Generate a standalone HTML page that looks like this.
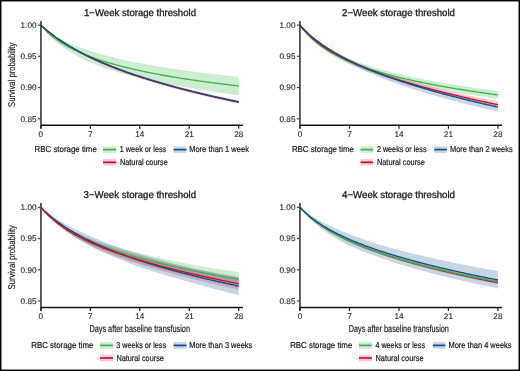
<!DOCTYPE html><html><head><meta charset="utf-8"><style>html,body{margin:0;padding:0;background:#fff}svg{display:block;will-change:transform;text-rendering:geometricPrecision}text{font-family:"Liberation Sans", sans-serif;fill:#222;stroke:#222;stroke-width:0.22px;paint-order:stroke}.t{stroke-width:0.1px}.h{stroke-width:0.32px}</style></head><body>
<svg width="520" height="371" viewBox="0 0 520 371">
<rect x="0" y="0" width="520" height="371" fill="#fff"/>
<g>
<path d="M40.9 25.1 L42.32 26.53 L43.75 27.87 L45.17 29.12 L46.59 30.3 L48.02 31.42 L49.44 32.47 L50.86 33.47 L52.28 34.42 L53.71 35.32 L55.13 36.18 L56.55 37.01 L57.98 37.8 L59.4 38.56 L60.82 39.28 L62.25 39.98 L63.67 40.66 L65.09 41.33 L66.51 41.99 L67.94 42.63 L69.36 43.26 L70.78 43.86 L72.21 44.45 L73.63 45.02 L75.05 45.58 L76.48 46.12 L77.9 46.66 L79.32 47.18 L80.74 47.69 L82.17 48.19 L83.59 48.68 L85.01 49.17 L86.44 49.65 L87.86 50.12 L89.28 50.59 L90.71 51.05 L92.13 51.5 L93.55 51.95 L94.97 52.39 L96.4 52.82 L97.82 53.24 L99.24 53.66 L100.67 54.07 L102.09 54.47 L103.51 54.86 L104.94 55.25 L106.36 55.64 L107.78 56.01 L109.21 56.39 L110.63 56.75 L112.05 57.11 L113.47 57.47 L114.9 57.82 L116.32 58.17 L117.74 58.51 L119.17 58.84 L120.59 59.17 L122.01 59.5 L123.44 59.82 L124.86 60.14 L126.28 60.45 L127.7 60.76 L129.13 61.07 L130.55 61.37 L131.97 61.66 L133.4 61.95 L134.82 62.24 L136.24 62.53 L137.67 62.81 L139.09 63.08 L140.51 63.35 L141.93 63.62 L143.36 63.89 L144.78 64.15 L146.2 64.41 L147.63 64.67 L149.05 64.92 L150.47 65.18 L151.9 65.43 L153.32 65.67 L154.74 65.92 L156.16 66.16 L157.59 66.4 L159.01 66.63 L160.43 66.86 L161.86 67.1 L163.28 67.32 L164.7 67.55 L166.13 67.77 L167.55 68 L168.97 68.22 L170.39 68.43 L171.82 68.65 L173.24 68.86 L174.66 69.07 L176.09 69.28 L177.51 69.48 L178.93 69.69 L180.36 69.89 L181.78 70.09 L183.2 70.28 L184.63 70.48 L186.05 70.67 L187.47 70.86 L188.89 71.05 L190.32 71.24 L191.74 71.42 L193.16 71.6 L194.59 71.78 L196.01 71.96 L197.43 72.14 L198.86 72.32 L200.28 72.49 L201.7 72.66 L203.12 72.84 L204.55 73 L205.97 73.17 L207.39 73.34 L208.82 73.5 L210.24 73.67 L211.66 73.83 L213.09 73.99 L214.51 74.15 L215.93 74.31 L217.35 74.46 L218.78 74.62 L220.2 74.77 L221.62 74.93 L223.05 75.08 L224.47 75.23 L225.89 75.38 L227.32 75.52 L228.74 75.67 L230.16 75.82 L231.58 75.96 L233.01 76.1 L234.43 76.24 L235.85 76.39 L237.28 76.53 L238.7 76.66 L238.7 95.26 L237.28 95.08 L235.85 94.89 L234.43 94.7 L233.01 94.51 L231.58 94.31 L230.16 94.12 L228.74 93.92 L227.32 93.73 L225.89 93.53 L224.47 93.33 L223.05 93.13 L221.62 92.93 L220.2 92.72 L218.78 92.52 L217.35 92.31 L215.93 92.1 L214.51 91.89 L213.09 91.68 L211.66 91.47 L210.24 91.26 L208.82 91.04 L207.39 90.82 L205.97 90.6 L204.55 90.38 L203.12 90.16 L201.7 89.94 L200.28 89.71 L198.86 89.48 L197.43 89.25 L196.01 89.02 L194.59 88.79 L193.16 88.55 L191.74 88.32 L190.32 88.08 L188.89 87.84 L187.47 87.59 L186.05 87.35 L184.63 87.1 L183.2 86.86 L181.78 86.61 L180.36 86.35 L178.93 86.1 L177.51 85.84 L176.09 85.58 L174.66 85.32 L173.24 85.06 L171.82 84.79 L170.39 84.53 L168.97 84.26 L167.55 83.98 L166.13 83.71 L164.7 83.43 L163.28 83.15 L161.86 82.86 L160.43 82.58 L159.01 82.28 L157.59 81.99 L156.16 81.69 L154.74 81.39 L153.32 81.09 L151.9 80.78 L150.47 80.47 L149.05 80.16 L147.63 79.84 L146.2 79.52 L144.78 79.19 L143.36 78.86 L141.93 78.53 L140.51 78.19 L139.09 77.85 L137.67 77.5 L136.24 77.15 L134.82 76.79 L133.4 76.44 L131.97 76.07 L130.55 75.7 L129.13 75.33 L127.7 74.95 L126.28 74.57 L124.86 74.18 L123.44 73.79 L122.01 73.39 L120.59 72.99 L119.17 72.57 L117.74 72.16 L116.32 71.73 L114.9 71.3 L113.47 70.86 L112.05 70.42 L110.63 69.97 L109.21 69.51 L107.78 69.04 L106.36 68.56 L104.94 68.08 L103.51 67.58 L102.09 67.08 L100.67 66.57 L99.24 66.05 L97.82 65.51 L96.4 64.97 L94.97 64.41 L93.55 63.85 L92.13 63.27 L90.71 62.68 L89.28 62.08 L87.86 61.46 L86.44 60.82 L85.01 60.16 L83.59 59.49 L82.17 58.79 L80.74 58.08 L79.32 57.34 L77.9 56.59 L76.48 55.82 L75.05 55.02 L73.63 54.21 L72.21 53.37 L70.78 52.51 L69.36 51.62 L67.94 50.71 L66.51 49.77 L65.09 48.81 L63.67 47.8 L62.25 46.74 L60.82 45.64 L59.4 44.51 L57.98 43.35 L56.55 42.14 L55.13 40.89 L53.71 39.6 L52.28 38.26 L50.86 36.86 L49.44 35.4 L48.02 33.89 L46.59 32.3 L45.17 30.64 L43.75 28.89 L42.32 27.05 L40.9 25.1Z" fill="#3cb44b" fill-opacity="0.26"/>
<path d="M40.9 25.1 L42.32 26.36 L43.75 27.58 L45.17 28.77 L46.59 29.93 L48.02 31.06 L49.44 32.16 L50.86 33.24 L52.28 34.29 L53.71 35.32 L55.13 36.32 L56.55 37.31 L57.98 38.27 L59.4 39.21 L60.82 40.14 L62.25 41.05 L63.67 41.94 L65.09 42.81 L66.51 43.67 L67.94 44.51 L69.36 45.34 L70.78 46.16 L72.21 46.96 L73.63 47.75 L75.05 48.53 L76.48 49.29 L77.9 50.05 L79.32 50.79 L80.74 51.53 L82.17 52.25 L83.59 52.97 L85.01 53.67 L86.44 54.37 L87.86 55.06 L89.28 55.74 L90.71 56.41 L92.13 57.08 L93.55 57.73 L94.97 58.38 L96.4 59.02 L97.82 59.65 L99.24 60.28 L100.67 60.89 L102.09 61.5 L103.51 62.1 L104.94 62.7 L106.36 63.29 L107.78 63.87 L109.21 64.45 L110.63 65.01 L112.05 65.58 L113.47 66.13 L114.9 66.68 L116.32 67.23 L117.74 67.77 L119.17 68.3 L120.59 68.83 L122.01 69.35 L123.44 69.87 L124.86 70.38 L126.28 70.89 L127.7 71.39 L129.13 71.89 L130.55 72.38 L131.97 72.87 L133.4 73.35 L134.82 73.83 L136.24 74.31 L137.67 74.78 L139.09 75.24 L140.51 75.7 L141.93 76.16 L143.36 76.61 L144.78 77.06 L146.2 77.51 L147.63 77.95 L149.05 78.39 L150.47 78.82 L151.9 79.25 L153.32 79.68 L154.74 80.11 L156.16 80.53 L157.59 80.95 L159.01 81.36 L160.43 81.77 L161.86 82.18 L163.28 82.58 L164.7 82.99 L166.13 83.38 L167.55 83.78 L168.97 84.17 L170.39 84.56 L171.82 84.95 L173.24 85.34 L174.66 85.72 L176.09 86.1 L177.51 86.47 L178.93 86.85 L180.36 87.22 L181.78 87.59 L183.2 87.95 L184.63 88.32 L186.05 88.68 L187.47 89.04 L188.89 89.4 L190.32 89.75 L191.74 90.1 L193.16 90.45 L194.59 90.8 L196.01 91.15 L197.43 91.49 L198.86 91.83 L200.28 92.17 L201.7 92.51 L203.12 92.85 L204.55 93.18 L205.97 93.51 L207.39 93.84 L208.82 94.17 L210.24 94.49 L211.66 94.82 L213.09 95.14 L214.51 95.46 L215.93 95.78 L217.35 96.09 L218.78 96.41 L220.2 96.72 L221.62 97.03 L223.05 97.34 L224.47 97.65 L225.89 97.96 L227.32 98.26 L228.74 98.56 L230.16 98.86 L231.58 99.16 L233.01 99.46 L234.43 99.76 L235.85 100.05 L237.28 100.35 L238.7 100.64 L238.7 103.04 L237.28 102.74 L235.85 102.44 L234.43 102.14 L233.01 101.84 L231.58 101.54 L230.16 101.23 L228.74 100.92 L227.32 100.61 L225.89 100.3 L224.47 99.99 L223.05 99.68 L221.62 99.36 L220.2 99.05 L218.78 98.73 L217.35 98.41 L215.93 98.08 L214.51 97.76 L213.09 97.43 L211.66 97.11 L210.24 96.78 L208.82 96.45 L207.39 96.11 L205.97 95.78 L204.55 95.44 L203.12 95.1 L201.7 94.76 L200.28 94.42 L198.86 94.07 L197.43 93.72 L196.01 93.38 L194.59 93.02 L193.16 92.67 L191.74 92.31 L190.32 91.96 L188.89 91.6 L187.47 91.23 L186.05 90.87 L184.63 90.5 L183.2 90.13 L181.78 89.76 L180.36 89.38 L178.93 89.01 L177.51 88.63 L176.09 88.24 L174.66 87.86 L173.24 87.47 L171.82 87.08 L170.39 86.69 L168.97 86.29 L167.55 85.89 L166.13 85.49 L164.7 85.09 L163.28 84.68 L161.86 84.27 L160.43 83.85 L159.01 83.44 L157.59 83.02 L156.16 82.59 L154.74 82.17 L153.32 81.74 L151.9 81.3 L150.47 80.87 L149.05 80.43 L147.63 79.98 L146.2 79.53 L144.78 79.08 L143.36 78.63 L141.93 78.17 L140.51 77.71 L139.09 77.24 L137.67 76.77 L136.24 76.29 L134.82 75.81 L133.4 75.33 L131.97 74.84 L130.55 74.35 L129.13 73.85 L127.7 73.35 L126.28 72.84 L124.86 72.33 L123.44 71.81 L122.01 71.29 L120.59 70.77 L119.17 70.23 L117.74 69.7 L116.32 69.15 L114.9 68.6 L113.47 68.05 L112.05 67.49 L110.63 66.92 L109.21 66.34 L107.78 65.76 L106.36 65.18 L104.94 64.58 L103.51 63.98 L102.09 63.37 L100.67 62.76 L99.24 62.13 L97.82 61.5 L96.4 60.86 L94.97 60.21 L93.55 59.56 L92.13 58.89 L90.71 58.22 L89.28 57.53 L87.86 56.84 L86.44 56.13 L85.01 55.41 L83.59 54.68 L82.17 53.94 L80.74 53.18 L79.32 52.42 L77.9 51.64 L76.48 50.84 L75.05 50.04 L73.63 49.22 L72.21 48.38 L70.78 47.53 L69.36 46.66 L67.94 45.78 L66.51 44.88 L65.09 43.97 L63.67 43.04 L62.25 42.09 L60.82 41.12 L59.4 40.13 L57.98 39.12 L56.55 38.09 L55.13 37.04 L53.71 35.97 L52.28 34.87 L50.86 33.75 L49.44 32.6 L48.02 31.43 L46.59 30.22 L45.17 28.99 L43.75 27.73 L42.32 26.43 L40.9 25.1Z" fill="#1f5a96" fill-opacity="0.25"/>
<path d="M40.9 25.1 L42.32 26.38 L43.75 27.62 L45.17 28.83 L46.59 30.01 L48.02 31.16 L49.44 32.28 L50.86 33.38 L52.28 34.45 L53.71 35.5 L55.13 36.52 L56.55 37.53 L57.98 38.51 L59.4 39.48 L60.82 40.42 L62.25 41.35 L63.67 42.23 L65.09 43.1 L66.51 43.95 L67.94 44.79 L69.36 45.62 L70.78 46.43 L72.21 47.22 L73.63 48.01 L75.05 48.78 L76.48 49.54 L77.9 50.29 L79.32 51.03 L80.74 51.76 L82.17 52.48 L83.59 53.19 L85.01 53.89 L86.44 54.58 L87.86 55.27 L89.28 55.94 L90.71 56.61 L92.13 57.27 L93.55 57.92 L94.97 58.57 L96.4 59.2 L97.82 59.83 L99.24 60.45 L100.67 61.06 L102.09 61.67 L103.51 62.27 L104.94 62.86 L106.36 63.44 L107.78 64.02 L109.21 64.59 L110.63 65.16 L112.05 65.72 L113.47 66.27 L114.9 66.82 L116.32 67.36 L117.74 67.9 L119.17 68.43 L120.59 68.95 L122.01 69.47 L123.44 69.99 L124.86 70.5 L126.28 71 L127.7 71.5 L129.13 72 L130.55 72.49 L131.97 72.98 L133.4 73.46 L134.82 73.94 L136.24 74.41 L137.67 74.88 L139.09 75.34 L140.51 75.8 L141.93 76.26 L143.36 76.71 L144.78 77.16 L146.2 77.61 L147.63 78.05 L149.05 78.48 L150.47 78.92 L151.9 79.35 L153.32 79.78 L154.74 80.2 L156.16 80.62 L157.59 81.04 L159.01 81.45 L160.43 81.87 L161.86 82.27 L163.28 82.68 L164.7 83.08 L166.13 83.48 L167.55 83.88 L168.97 84.27 L170.39 84.66 L171.82 85.05 L173.24 85.43 L174.66 85.82 L176.09 86.2 L177.51 86.57 L178.93 86.95 L180.36 87.32 L181.78 87.69 L183.2 88.05 L184.63 88.42 L186.05 88.78 L187.47 89.14 L188.89 89.5 L190.32 89.85 L191.74 90.2 L193.16 90.55 L194.59 90.9 L196.01 91.25 L197.43 91.59 L198.86 91.93 L200.28 92.27 L201.7 92.61 L203.12 92.95 L204.55 93.28 L205.97 93.61 L207.39 93.94 L208.82 94.27 L210.24 94.59 L211.66 94.92 L213.09 95.24 L214.51 95.56 L215.93 95.88 L217.35 96.19 L218.78 96.51 L220.2 96.82 L221.62 97.13 L223.05 97.44 L224.47 97.75 L225.89 98.06 L227.32 98.36 L228.74 98.66 L230.16 98.96 L231.58 99.26 L233.01 99.56 L234.43 99.86 L235.85 100.15 L237.28 100.45 L238.7 100.74 L238.7 103.74 L237.28 103.44 L235.85 103.14 L234.43 102.84 L233.01 102.54 L231.58 102.24 L230.16 101.93 L228.74 101.62 L227.32 101.31 L225.89 101 L224.47 100.69 L223.05 100.38 L221.62 100.06 L220.2 99.75 L218.78 99.43 L217.35 99.11 L215.93 98.78 L214.51 98.46 L213.09 98.13 L211.66 97.81 L210.24 97.48 L208.82 97.15 L207.39 96.81 L205.97 96.48 L204.55 96.14 L203.12 95.8 L201.7 95.46 L200.28 95.12 L198.86 94.77 L197.43 94.42 L196.01 94.08 L194.59 93.72 L193.16 93.37 L191.74 93.01 L190.32 92.66 L188.89 92.3 L187.47 91.93 L186.05 91.57 L184.63 91.2 L183.2 90.83 L181.78 90.46 L180.36 90.08 L178.93 89.71 L177.51 89.33 L176.09 88.95 L174.66 88.56 L173.24 88.17 L171.82 87.78 L170.39 87.39 L168.97 86.99 L167.55 86.6 L166.13 86.19 L164.7 85.79 L163.28 85.38 L161.86 84.97 L160.43 84.56 L159.01 84.14 L157.59 83.72 L156.16 83.3 L154.74 82.87 L153.32 82.44 L151.9 82.01 L150.47 81.57 L149.05 81.13 L147.63 80.69 L146.2 80.24 L144.78 79.79 L143.36 79.33 L141.93 78.87 L140.51 78.41 L139.09 77.94 L137.67 77.47 L136.24 76.99 L134.82 76.51 L133.4 76.02 L131.97 75.53 L130.55 75.04 L129.13 74.54 L127.7 74.04 L126.28 73.53 L124.86 73.01 L123.44 72.5 L122.01 71.97 L120.59 71.44 L119.17 70.91 L117.74 70.37 L116.32 69.82 L114.9 69.27 L113.47 68.71 L112.05 68.15 L110.63 67.57 L109.21 67 L107.78 66.41 L106.36 65.82 L104.94 65.22 L103.51 64.62 L102.09 64.01 L100.67 63.39 L99.24 62.76 L97.82 62.12 L96.4 61.48 L94.97 60.83 L93.55 60.17 L92.13 59.5 L90.71 58.82 L89.28 58.13 L87.86 57.43 L86.44 56.72 L85.01 55.99 L83.59 55.26 L82.17 54.51 L80.74 53.75 L79.32 52.98 L77.9 52.19 L76.48 51.4 L75.05 50.58 L73.63 49.76 L72.21 48.92 L70.78 48.06 L69.36 47.19 L67.94 46.3 L66.51 45.4 L65.09 44.48 L63.67 43.54 L62.25 42.58 L60.82 41.59 L59.4 40.57 L57.98 39.52 L56.55 38.46 L55.13 37.38 L53.71 36.27 L52.28 35.14 L50.86 33.99 L49.44 32.8 L48.02 31.6 L46.59 30.36 L45.17 29.09 L43.75 27.8 L42.32 26.47 L40.9 25.1Z" fill="#dc143c" fill-opacity="0.22"/>
<path d="M40.9 25.1 L42.32 26.42 L43.75 27.71 L45.17 28.96 L46.59 30.18 L48.02 31.38 L49.44 32.54 L50.86 33.68 L52.28 34.8 L53.71 35.88 L55.13 36.95 L56.55 38 L57.98 39.02 L59.4 40.02 L60.82 41 L62.25 41.97 L63.67 42.89 L65.09 43.79 L66.51 44.68 L67.94 45.55 L69.36 46.4 L70.78 47.24 L72.21 48.07 L73.63 48.88 L75.05 49.68 L76.48 50.47 L77.9 51.24 L79.32 52 L80.74 52.76 L82.17 53.5 L83.59 54.22 L85.01 54.94 L86.44 55.65 L87.86 56.35 L89.28 57.04 L90.71 57.71 L92.13 58.38 L93.55 59.04 L94.97 59.7 L96.4 60.34 L97.82 60.98 L99.24 61.6 L100.67 62.23 L102.09 62.84 L103.51 63.44 L104.94 64.04 L106.36 64.63 L107.78 65.22 L109.21 65.79 L110.63 66.37 L112.05 66.93 L113.47 67.49 L114.9 68.04 L116.32 68.59 L117.74 69.13 L119.17 69.67 L120.59 70.2 L122.01 70.72 L123.44 71.24 L124.86 71.76 L126.28 72.27 L127.7 72.77 L129.13 73.27 L130.55 73.76 L131.97 74.25 L133.4 74.74 L134.82 75.22 L136.24 75.7 L137.67 76.17 L139.09 76.64 L140.51 77.1 L141.93 77.56 L143.36 78.02 L144.78 78.47 L146.2 78.92 L147.63 79.37 L149.05 79.81 L150.47 80.25 L151.9 80.68 L153.32 81.11 L154.74 81.54 L156.16 81.96 L157.59 82.38 L159.01 82.8 L160.43 83.21 L161.86 83.62 L163.28 84.03 L164.7 84.44 L166.13 84.84 L167.55 85.24 L168.97 85.63 L170.39 86.03 L171.82 86.42 L173.24 86.8 L174.66 87.19 L176.09 87.57 L177.51 87.95 L178.93 88.33 L180.36 88.7 L181.78 89.07 L183.2 89.44 L184.63 89.81 L186.05 90.17 L187.47 90.54 L188.89 90.9 L190.32 91.25 L191.74 91.61 L193.16 91.96 L194.59 92.31 L196.01 92.66 L197.43 93.01 L198.86 93.35 L200.28 93.69 L201.7 94.03 L203.12 94.37 L204.55 94.71 L205.97 95.04 L207.39 95.38 L208.82 95.71 L210.24 96.03 L211.66 96.36 L213.09 96.69 L214.51 97.01 L215.93 97.33 L217.35 97.65 L218.78 97.97 L220.2 98.28 L221.62 98.6 L223.05 98.91 L224.47 99.22 L225.89 99.53 L227.32 99.84 L228.74 100.14 L230.16 100.45 L231.58 100.75 L233.01 101.05 L234.43 101.35 L235.85 101.65 L237.28 101.95 L238.7 102.24" fill="none" stroke="#c8102e" stroke-width="1.35" stroke-linejoin="round"/>
<path d="M40.9 25.1 L42.32 26.79 L43.75 28.38 L45.17 29.88 L46.59 31.3 L48.02 32.65 L49.44 33.94 L50.86 35.16 L52.28 36.34 L53.71 37.46 L55.13 38.54 L56.55 39.58 L57.98 40.57 L59.4 41.53 L60.82 42.46 L62.25 43.36 L63.67 44.23 L65.09 45.07 L66.51 45.88 L67.94 46.67 L69.36 47.44 L70.78 48.18 L72.21 48.91 L73.63 49.61 L75.05 50.3 L76.48 50.97 L77.9 51.62 L79.32 52.26 L80.74 52.88 L82.17 53.49 L83.59 54.08 L85.01 54.66 L86.44 55.23 L87.86 55.79 L89.28 56.33 L90.71 56.86 L92.13 57.39 L93.55 57.9 L94.97 58.4 L96.4 58.89 L97.82 59.38 L99.24 59.85 L100.67 60.32 L102.09 60.77 L103.51 61.22 L104.94 61.67 L106.36 62.1 L107.78 62.53 L109.21 62.95 L110.63 63.36 L112.05 63.77 L113.47 64.17 L114.9 64.56 L116.32 64.95 L117.74 65.33 L119.17 65.71 L120.59 66.08 L122.01 66.45 L123.44 66.81 L124.86 67.16 L126.28 67.51 L127.7 67.86 L129.13 68.2 L130.55 68.53 L131.97 68.87 L133.4 69.19 L134.82 69.52 L136.24 69.84 L137.67 70.15 L139.09 70.46 L140.51 70.77 L141.93 71.08 L143.36 71.38 L144.78 71.67 L146.2 71.97 L147.63 72.26 L149.05 72.54 L150.47 72.82 L151.9 73.1 L153.32 73.38 L154.74 73.65 L156.16 73.93 L157.59 74.19 L159.01 74.46 L160.43 74.72 L161.86 74.98 L163.28 75.24 L164.7 75.49 L166.13 75.74 L167.55 75.99 L168.97 76.24 L170.39 76.48 L171.82 76.72 L173.24 76.96 L174.66 77.2 L176.09 77.43 L177.51 77.66 L178.93 77.89 L180.36 78.12 L181.78 78.35 L183.2 78.57 L184.63 78.79 L186.05 79.01 L187.47 79.23 L188.89 79.44 L190.32 79.66 L191.74 79.87 L193.16 80.08 L194.59 80.29 L196.01 80.49 L197.43 80.7 L198.86 80.9 L200.28 81.1 L201.7 81.3 L203.12 81.5 L204.55 81.69 L205.97 81.89 L207.39 82.08 L208.82 82.27 L210.24 82.46 L211.66 82.65 L213.09 82.84 L214.51 83.02 L215.93 83.21 L217.35 83.39 L218.78 83.57 L220.2 83.75 L221.62 83.93 L223.05 84.1 L224.47 84.28 L225.89 84.45 L227.32 84.63 L228.74 84.8 L230.16 84.97 L231.58 85.14 L233.01 85.3 L234.43 85.47 L235.85 85.64 L237.28 85.8 L238.7 85.96" fill="none" stroke="#3db54a" stroke-width="1.35" stroke-linejoin="round"/>
<path d="M40.9 25.1 L42.32 26.39 L43.75 27.65 L45.17 28.88 L46.59 30.08 L48.02 31.24 L49.44 32.38 L50.86 33.49 L52.28 34.58 L53.71 35.64 L55.13 36.68 L56.55 37.7 L57.98 38.7 L59.4 39.67 L60.82 40.63 L62.25 41.57 L63.67 42.49 L65.09 43.39 L66.51 44.28 L67.94 45.15 L69.36 46 L70.78 46.84 L72.21 47.67 L73.63 48.48 L75.05 49.28 L76.48 50.07 L77.9 50.84 L79.32 51.6 L80.74 52.36 L82.17 53.1 L83.59 53.82 L85.01 54.54 L86.44 55.25 L87.86 55.95 L89.28 56.64 L90.71 57.31 L92.13 57.98 L93.55 58.64 L94.97 59.3 L96.4 59.94 L97.82 60.58 L99.24 61.2 L100.67 61.83 L102.09 62.44 L103.51 63.04 L104.94 63.64 L106.36 64.23 L107.78 64.82 L109.21 65.39 L110.63 65.97 L112.05 66.53 L113.47 67.09 L114.9 67.64 L116.32 68.19 L117.74 68.73 L119.17 69.27 L120.59 69.8 L122.01 70.32 L123.44 70.84 L124.86 71.36 L126.28 71.87 L127.7 72.37 L129.13 72.87 L130.55 73.36 L131.97 73.85 L133.4 74.34 L134.82 74.82 L136.24 75.3 L137.67 75.77 L139.09 76.24 L140.51 76.7 L141.93 77.16 L143.36 77.62 L144.78 78.07 L146.2 78.52 L147.63 78.97 L149.05 79.41 L150.47 79.85 L151.9 80.28 L153.32 80.71 L154.74 81.14 L156.16 81.56 L157.59 81.98 L159.01 82.4 L160.43 82.81 L161.86 83.22 L163.28 83.63 L164.7 84.04 L166.13 84.44 L167.55 84.84 L168.97 85.23 L170.39 85.63 L171.82 86.02 L173.24 86.4 L174.66 86.79 L176.09 87.17 L177.51 87.55 L178.93 87.93 L180.36 88.3 L181.78 88.67 L183.2 89.04 L184.63 89.41 L186.05 89.77 L187.47 90.14 L188.89 90.5 L190.32 90.85 L191.74 91.21 L193.16 91.56 L194.59 91.91 L196.01 92.26 L197.43 92.61 L198.86 92.95 L200.28 93.29 L201.7 93.63 L203.12 93.97 L204.55 94.31 L205.97 94.64 L207.39 94.98 L208.82 95.31 L210.24 95.63 L211.66 95.96 L213.09 96.29 L214.51 96.61 L215.93 96.93 L217.35 97.25 L218.78 97.57 L220.2 97.88 L221.62 98.2 L223.05 98.51 L224.47 98.82 L225.89 99.13 L227.32 99.44 L228.74 99.74 L230.16 100.05 L231.58 100.35 L233.01 100.65 L234.43 100.95 L235.85 101.25 L237.28 101.55 L238.7 101.84" fill="none" stroke="#154d88" stroke-width="1.35" stroke-linejoin="round"/>
</g>
<line x1="40.95" y1="20.9" x2="40.95" y2="128.4" stroke="#383838" stroke-width="1.6"/>
<line x1="40.95" y1="125.2" x2="242.9" y2="125.2" stroke="#141414" stroke-width="1.5"/>
<line x1="37.85" y1="25.1" x2="40.95" y2="25.1" stroke="#474747" stroke-width="1.2"/>
<text x="36.5" y="27.9" font-size="8.2" text-anchor="end" class="t">1.00</text>
<line x1="37.85" y1="56.33" x2="40.95" y2="56.33" stroke="#474747" stroke-width="1.2"/>
<text x="36.5" y="59.13" font-size="8.2" text-anchor="end" class="t">0.95</text>
<line x1="37.85" y1="87.56" x2="40.95" y2="87.56" stroke="#474747" stroke-width="1.2"/>
<text x="36.5" y="90.36" font-size="8.2" text-anchor="end" class="t">0.90</text>
<line x1="37.85" y1="118.79" x2="40.95" y2="118.79" stroke="#474747" stroke-width="1.2"/>
<text x="36.5" y="121.59" font-size="8.2" text-anchor="end" class="t">0.85</text>
<line x1="40.9" y1="125.2" x2="40.9" y2="128.7" stroke="#1c1c1c" stroke-width="1.2"/>
<text x="40.9" y="136.8" font-size="8.2" text-anchor="middle" class="t">0</text>
<line x1="90.35" y1="125.2" x2="90.35" y2="128.7" stroke="#1c1c1c" stroke-width="1.2"/>
<text x="90.35" y="136.8" font-size="8.2" text-anchor="middle" class="t">7</text>
<line x1="139.8" y1="125.2" x2="139.8" y2="128.7" stroke="#1c1c1c" stroke-width="1.2"/>
<text x="139.8" y="136.8" font-size="8.2" text-anchor="middle" class="t">14</text>
<line x1="189.25" y1="125.2" x2="189.25" y2="128.7" stroke="#1c1c1c" stroke-width="1.2"/>
<text x="189.25" y="136.8" font-size="8.2" text-anchor="middle" class="t">21</text>
<line x1="238.7" y1="125.2" x2="238.7" y2="128.7" stroke="#1c1c1c" stroke-width="1.2"/>
<text x="238.7" y="136.8" font-size="8.2" text-anchor="middle" class="t">28</text>
<text x="84" y="15.9" font-size="9.9" text-anchor="start" textLength="112" lengthAdjust="spacingAndGlyphs" class="h">1−Week storage threshold</text>
<g>
<path d="M300 25.1 L301.42 26.96 L302.85 28.71 L304.27 30.34 L305.69 31.88 L307.12 33.33 L308.54 34.7 L309.97 36.01 L311.39 37.26 L312.81 38.45 L314.24 39.59 L315.66 40.69 L317.08 41.74 L318.51 42.75 L319.93 43.73 L321.36 44.68 L322.78 45.6 L324.2 46.49 L325.63 47.36 L327.05 48.2 L328.47 49.02 L329.9 49.81 L331.32 50.58 L332.75 51.33 L334.17 52.06 L335.59 52.78 L337.02 53.47 L338.44 54.15 L339.86 54.82 L341.29 55.47 L342.71 56.1 L344.14 56.73 L345.56 57.34 L346.98 57.93 L348.41 58.52 L349.83 59.1 L351.25 59.66 L352.68 60.21 L354.1 60.75 L355.53 61.29 L356.95 61.81 L358.37 62.32 L359.8 62.82 L361.22 63.32 L362.64 63.8 L364.07 64.28 L365.49 64.75 L366.92 65.21 L368.34 65.67 L369.76 66.11 L371.19 66.55 L372.61 66.99 L374.03 67.41 L375.46 67.83 L376.88 68.25 L378.31 68.66 L379.73 69.06 L381.15 69.46 L382.58 69.85 L384 70.24 L385.42 70.62 L386.85 71 L388.27 71.37 L389.7 71.73 L391.12 72.1 L392.54 72.46 L393.97 72.81 L395.39 73.16 L396.81 73.5 L398.24 73.85 L399.66 74.18 L401.09 74.52 L402.51 74.85 L403.93 75.17 L405.36 75.5 L406.78 75.82 L408.2 76.13 L409.63 76.44 L411.05 76.75 L412.48 77.06 L413.9 77.36 L415.32 77.66 L416.75 77.96 L418.17 78.25 L419.59 78.54 L421.02 78.83 L422.44 79.12 L423.87 79.4 L425.29 79.68 L426.71 79.95 L428.14 80.23 L429.56 80.5 L430.98 80.76 L432.41 81.03 L433.83 81.29 L435.26 81.55 L436.68 81.81 L438.1 82.07 L439.53 82.32 L440.95 82.57 L442.37 82.82 L443.8 83.06 L445.22 83.3 L446.65 83.55 L448.07 83.78 L449.49 84.02 L450.92 84.25 L452.34 84.49 L453.76 84.72 L455.19 84.94 L456.61 85.17 L458.04 85.39 L459.46 85.61 L460.88 85.83 L462.31 86.05 L463.73 86.27 L465.15 86.48 L466.58 86.7 L468 86.91 L469.43 87.12 L470.85 87.33 L472.27 87.53 L473.7 87.74 L475.12 87.94 L476.54 88.14 L477.97 88.34 L479.39 88.54 L480.82 88.73 L482.24 88.93 L483.66 89.12 L485.09 89.32 L486.51 89.51 L487.93 89.7 L489.36 89.88 L490.78 90.07 L492.21 90.25 L493.63 90.44 L495.05 90.62 L496.48 90.8 L497.9 90.98 L497.9 98.78 L496.48 98.59 L495.05 98.39 L493.63 98.19 L492.21 97.99 L490.78 97.78 L489.36 97.58 L487.93 97.37 L486.51 97.17 L485.09 96.96 L483.66 96.75 L482.24 96.54 L480.82 96.33 L479.39 96.11 L477.97 95.9 L476.54 95.68 L475.12 95.46 L473.7 95.24 L472.27 95.02 L470.85 94.8 L469.43 94.57 L468 94.35 L466.58 94.12 L465.15 93.89 L463.73 93.65 L462.31 93.42 L460.88 93.19 L459.46 92.95 L458.04 92.71 L456.61 92.47 L455.19 92.22 L453.76 91.98 L452.34 91.73 L450.92 91.48 L449.49 91.23 L448.07 90.98 L446.65 90.72 L445.22 90.47 L443.8 90.21 L442.37 89.95 L440.95 89.68 L439.53 89.42 L438.1 89.15 L436.68 88.88 L435.26 88.61 L433.83 88.33 L432.41 88.05 L430.98 87.77 L429.56 87.49 L428.14 87.2 L426.71 86.91 L425.29 86.62 L423.87 86.33 L422.44 86.03 L421.02 85.73 L419.59 85.43 L418.17 85.12 L416.75 84.81 L415.32 84.5 L413.9 84.18 L412.48 83.86 L411.05 83.53 L409.63 83.21 L408.2 82.87 L406.78 82.54 L405.36 82.2 L403.93 81.85 L402.51 81.51 L401.09 81.15 L399.66 80.8 L398.24 80.43 L396.81 80.07 L395.39 79.7 L393.97 79.32 L392.54 78.94 L391.12 78.55 L389.7 78.16 L388.27 77.76 L386.85 77.36 L385.42 76.95 L384 76.54 L382.58 76.12 L381.15 75.69 L379.73 75.26 L378.31 74.82 L376.88 74.37 L375.46 73.92 L374.03 73.46 L372.61 72.99 L371.19 72.52 L369.76 72.03 L368.34 71.54 L366.92 71.04 L365.49 70.54 L364.07 70.02 L362.64 69.5 L361.22 68.96 L359.8 68.42 L358.37 67.86 L356.95 67.3 L355.53 66.72 L354.1 66.14 L352.68 65.54 L351.25 64.93 L349.83 64.31 L348.41 63.67 L346.98 63.03 L345.56 62.36 L344.14 61.68 L342.71 60.98 L341.29 60.27 L339.86 59.54 L338.44 58.79 L337.02 58.02 L335.59 57.23 L334.17 56.42 L332.75 55.58 L331.32 54.73 L329.9 53.85 L328.47 52.94 L327.05 52 L325.63 51.04 L324.2 50.05 L322.78 49.02 L321.36 47.95 L319.93 46.84 L318.51 45.69 L317.08 44.5 L315.66 43.25 L314.24 41.96 L312.81 40.61 L311.39 39.21 L309.97 37.74 L308.54 36.2 L307.12 34.59 L305.69 32.9 L304.27 31.11 L302.85 29.23 L301.42 27.23 L300 25.1Z" fill="#3cb44b" fill-opacity="0.26"/>
<path d="M300 25.1 L301.42 26.58 L302.85 28.01 L304.27 29.39 L305.69 30.72 L307.12 32 L308.54 33.25 L309.97 34.45 L311.39 35.63 L312.81 36.77 L314.24 37.88 L315.66 38.96 L317.08 40.01 L318.51 41.05 L319.93 42.06 L321.36 43.04 L322.78 44.01 L324.2 44.97 L325.63 45.9 L327.05 46.81 L328.47 47.71 L329.9 48.59 L331.32 49.46 L332.75 50.3 L334.17 51.14 L335.59 51.96 L337.02 52.76 L338.44 53.55 L339.86 54.33 L341.29 55.09 L342.71 55.85 L344.14 56.59 L345.56 57.32 L346.98 58.04 L348.41 58.74 L349.83 59.44 L351.25 60.13 L352.68 60.8 L354.1 61.47 L355.53 62.13 L356.95 62.78 L358.37 63.42 L359.8 64.06 L361.22 64.68 L362.64 65.3 L364.07 65.91 L365.49 66.51 L366.92 67.11 L368.34 67.7 L369.76 68.28 L371.19 68.85 L372.61 69.42 L374.03 69.98 L375.46 70.54 L376.88 71.09 L378.31 71.64 L379.73 72.17 L381.15 72.71 L382.58 73.24 L384 73.76 L385.42 74.28 L386.85 74.79 L388.27 75.3 L389.7 75.8 L391.12 76.3 L392.54 76.79 L393.97 77.28 L395.39 77.77 L396.81 78.25 L398.24 78.72 L399.66 79.2 L401.09 79.66 L402.51 80.13 L403.93 80.59 L405.36 81.05 L406.78 81.5 L408.2 81.95 L409.63 82.39 L411.05 82.84 L412.48 83.28 L413.9 83.71 L415.32 84.15 L416.75 84.57 L418.17 85 L419.59 85.42 L421.02 85.85 L422.44 86.26 L423.87 86.68 L425.29 87.09 L426.71 87.5 L428.14 87.9 L429.56 88.31 L430.98 88.71 L432.41 89.1 L433.83 89.5 L435.26 89.89 L436.68 90.28 L438.1 90.67 L439.53 91.05 L440.95 91.44 L442.37 91.82 L443.8 92.19 L445.22 92.57 L446.65 92.94 L448.07 93.31 L449.49 93.68 L450.92 94.05 L452.34 94.41 L453.76 94.77 L455.19 95.13 L456.61 95.49 L458.04 95.85 L459.46 96.2 L460.88 96.55 L462.31 96.9 L463.73 97.25 L465.15 97.6 L466.58 97.94 L468 98.29 L469.43 98.63 L470.85 98.97 L472.27 99.3 L473.7 99.64 L475.12 99.97 L476.54 100.31 L477.97 100.64 L479.39 100.97 L480.82 101.29 L482.24 101.62 L483.66 101.94 L485.09 102.27 L486.51 102.59 L487.93 102.91 L489.36 103.23 L490.78 103.54 L492.21 103.86 L493.63 104.17 L495.05 104.49 L496.48 104.8 L497.9 105.11 L497.9 111.51 L496.48 111.19 L495.05 110.87 L493.63 110.55 L492.21 110.22 L490.78 109.9 L489.36 109.57 L487.93 109.24 L486.51 108.91 L485.09 108.58 L483.66 108.25 L482.24 107.91 L480.82 107.58 L479.39 107.24 L477.97 106.9 L476.54 106.55 L475.12 106.21 L473.7 105.87 L472.27 105.52 L470.85 105.17 L469.43 104.82 L468 104.46 L466.58 104.11 L465.15 103.75 L463.73 103.39 L462.31 103.03 L460.88 102.67 L459.46 102.3 L458.04 101.94 L456.61 101.57 L455.19 101.2 L453.76 100.82 L452.34 100.45 L450.92 100.07 L449.49 99.69 L448.07 99.31 L446.65 98.93 L445.22 98.54 L443.8 98.15 L442.37 97.76 L440.95 97.36 L439.53 96.97 L438.1 96.57 L436.68 96.17 L435.26 95.76 L433.83 95.35 L432.41 94.94 L430.98 94.53 L429.56 94.12 L428.14 93.7 L426.71 93.27 L425.29 92.85 L423.87 92.42 L422.44 91.99 L421.02 91.56 L419.59 91.12 L418.17 90.68 L416.75 90.23 L415.32 89.79 L413.9 89.33 L412.48 88.88 L411.05 88.42 L409.63 87.96 L408.2 87.49 L406.78 87.02 L405.36 86.55 L403.93 86.07 L402.51 85.58 L401.09 85.1 L399.66 84.61 L398.24 84.11 L396.81 83.61 L395.39 83.11 L393.97 82.59 L392.54 82.08 L391.12 81.56 L389.7 81.03 L388.27 80.5 L386.85 79.96 L385.42 79.41 L384 78.86 L382.58 78.31 L381.15 77.74 L379.73 77.18 L378.31 76.6 L376.88 76.02 L375.46 75.43 L374.03 74.84 L372.61 74.24 L371.19 73.63 L369.76 73.01 L368.34 72.39 L366.92 71.76 L365.49 71.12 L364.07 70.48 L362.64 69.83 L361.22 69.16 L359.8 68.49 L358.37 67.82 L356.95 67.13 L355.53 66.43 L354.1 65.73 L352.68 65.01 L351.25 64.29 L349.83 63.55 L348.41 62.81 L346.98 62.05 L345.56 61.28 L344.14 60.5 L342.71 59.71 L341.29 58.9 L339.86 58.09 L338.44 57.25 L337.02 56.4 L335.59 55.54 L334.17 54.65 L332.75 53.75 L331.32 52.84 L329.9 51.9 L328.47 50.94 L327.05 49.96 L325.63 48.96 L324.2 47.93 L322.78 46.88 L321.36 45.79 L319.93 44.68 L318.51 43.53 L317.08 42.35 L315.66 41.14 L314.24 39.9 L312.81 38.61 L311.39 37.29 L309.97 35.93 L308.54 34.53 L307.12 33.09 L305.69 31.59 L304.27 30.05 L302.85 28.46 L301.42 26.81 L300 25.1Z" fill="#1f5a96" fill-opacity="0.25"/>
<path d="M300 25.1 L301.42 26.78 L302.85 28.37 L304.27 29.88 L305.69 31.32 L307.12 32.69 L308.54 34.01 L309.97 35.28 L311.39 36.5 L312.81 37.67 L314.24 38.81 L315.66 39.91 L317.08 40.97 L318.51 42.01 L319.93 43.02 L321.36 44 L322.78 44.96 L324.2 45.89 L325.63 46.81 L327.05 47.7 L328.47 48.58 L329.9 49.43 L331.32 50.27 L332.75 51.09 L334.17 51.89 L335.59 52.68 L337.02 53.45 L338.44 54.21 L339.86 54.95 L341.29 55.68 L342.71 56.39 L344.14 57.09 L345.56 57.78 L346.98 58.46 L348.41 59.12 L349.83 59.78 L351.25 60.42 L352.68 61.05 L354.1 61.67 L355.53 62.29 L356.95 62.89 L358.37 63.49 L359.8 64.07 L361.22 64.65 L362.64 65.22 L364.07 65.79 L365.49 66.34 L366.92 66.89 L368.34 67.43 L369.76 67.97 L371.19 68.49 L372.61 69.02 L374.03 69.53 L375.46 70.04 L376.88 70.55 L378.31 71.04 L379.73 71.54 L381.15 72.03 L382.58 72.51 L384 72.99 L385.42 73.46 L386.85 73.93 L388.27 74.39 L389.7 74.85 L391.12 75.31 L392.54 75.76 L393.97 76.2 L395.39 76.65 L396.81 77.09 L398.24 77.52 L399.66 77.95 L401.09 78.38 L402.51 78.81 L403.93 79.23 L405.36 79.65 L406.78 80.06 L408.2 80.47 L409.63 80.88 L411.05 81.29 L412.48 81.69 L413.9 82.09 L415.32 82.49 L416.75 82.88 L418.17 83.27 L419.59 83.66 L421.02 84.05 L422.44 84.43 L423.87 84.81 L425.29 85.19 L426.71 85.56 L428.14 85.94 L429.56 86.31 L430.98 86.67 L432.41 87.04 L433.83 87.4 L435.26 87.76 L436.68 88.11 L438.1 88.47 L439.53 88.82 L440.95 89.17 L442.37 89.51 L443.8 89.86 L445.22 90.2 L446.65 90.54 L448.07 90.87 L449.49 91.2 L450.92 91.54 L452.34 91.86 L453.76 92.19 L455.19 92.51 L456.61 92.83 L458.04 93.15 L459.46 93.47 L460.88 93.78 L462.31 94.1 L463.73 94.41 L465.15 94.71 L466.58 95.02 L468 95.32 L469.43 95.63 L470.85 95.93 L472.27 96.22 L473.7 96.52 L475.12 96.81 L476.54 97.11 L477.97 97.4 L479.39 97.69 L480.82 97.97 L482.24 98.26 L483.66 98.54 L485.09 98.82 L486.51 99.1 L487.93 99.38 L489.36 99.66 L490.78 99.93 L492.21 100.21 L493.63 100.48 L495.05 100.75 L496.48 101.02 L497.9 101.29 L497.9 106.69 L496.48 106.39 L495.05 106.08 L493.63 105.78 L492.21 105.47 L490.78 105.16 L489.36 104.86 L487.93 104.55 L486.51 104.23 L485.09 103.92 L483.66 103.61 L482.24 103.29 L480.82 102.98 L479.39 102.66 L477.97 102.34 L476.54 102.02 L475.12 101.7 L473.7 101.37 L472.27 101.05 L470.85 100.72 L469.43 100.39 L468 100.06 L466.58 99.73 L465.15 99.4 L463.73 99.06 L462.31 98.73 L460.88 98.39 L459.46 98.05 L458.04 97.71 L456.61 97.36 L455.19 97.02 L453.76 96.67 L452.34 96.32 L450.92 95.97 L449.49 95.62 L448.07 95.27 L446.65 94.91 L445.22 94.55 L443.8 94.19 L442.37 93.83 L440.95 93.46 L439.53 93.1 L438.1 92.73 L436.68 92.36 L435.26 91.98 L433.83 91.61 L432.41 91.23 L430.98 90.85 L429.56 90.47 L428.14 90.08 L426.71 89.69 L425.29 89.3 L423.87 88.91 L422.44 88.52 L421.02 88.12 L419.59 87.72 L418.17 87.31 L416.75 86.9 L415.32 86.49 L413.9 86.08 L412.48 85.66 L411.05 85.24 L409.63 84.82 L408.2 84.4 L406.78 83.97 L405.36 83.53 L403.93 83.1 L402.51 82.66 L401.09 82.21 L399.66 81.76 L398.24 81.31 L396.81 80.85 L395.39 80.39 L393.97 79.93 L392.54 79.46 L391.12 78.99 L389.7 78.51 L388.27 78.03 L386.85 77.54 L385.42 77.05 L384 76.55 L382.58 76.05 L381.15 75.55 L379.73 75.03 L378.31 74.52 L376.88 73.99 L375.46 73.46 L374.03 72.93 L372.61 72.39 L371.19 71.84 L369.76 71.28 L368.34 70.72 L366.92 70.15 L365.49 69.58 L364.07 68.99 L362.64 68.4 L361.22 67.8 L359.8 67.19 L358.37 66.58 L356.95 65.95 L355.53 65.32 L354.1 64.68 L352.68 64.02 L351.25 63.36 L349.83 62.69 L348.41 62 L346.98 61.3 L345.56 60.6 L344.14 59.87 L342.71 59.14 L341.29 58.39 L339.86 57.63 L338.44 56.85 L337.02 56.06 L335.59 55.25 L334.17 54.43 L332.75 53.58 L331.32 52.72 L329.9 51.83 L328.47 50.93 L327.05 50 L325.63 49.05 L324.2 48.07 L322.78 47.06 L321.36 46.02 L319.93 44.95 L318.51 43.85 L317.08 42.71 L315.66 41.53 L314.24 40.31 L312.81 39.05 L311.39 37.74 L309.97 36.38 L308.54 34.97 L307.12 33.5 L305.69 31.97 L304.27 30.37 L302.85 28.7 L301.42 26.95 L300 25.1Z" fill="#dc143c" fill-opacity="0.22"/>
<path d="M300 25.1 L301.42 27.1 L302.85 28.97 L304.27 30.73 L305.69 32.39 L307.12 33.96 L308.54 35.45 L309.97 36.88 L311.39 38.23 L312.81 39.53 L314.24 40.78 L315.66 41.97 L317.08 43.12 L318.51 44.22 L319.93 45.29 L321.36 46.31 L322.78 47.31 L324.2 48.27 L325.63 49.2 L327.05 50.1 L328.47 50.98 L329.9 51.83 L331.32 52.65 L332.75 53.46 L334.17 54.24 L335.59 55 L337.02 55.75 L338.44 56.47 L339.86 57.18 L341.29 57.87 L342.71 58.54 L344.14 59.2 L345.56 59.85 L346.98 60.48 L348.41 61.1 L349.83 61.7 L351.25 62.3 L352.68 62.88 L354.1 63.45 L355.53 64 L356.95 64.55 L358.37 65.09 L359.8 65.62 L361.22 66.14 L362.64 66.65 L364.07 67.15 L365.49 67.64 L366.92 68.13 L368.34 68.6 L369.76 69.07 L371.19 69.53 L372.61 69.99 L374.03 70.44 L375.46 70.88 L376.88 71.31 L378.31 71.74 L379.73 72.16 L381.15 72.57 L382.58 72.98 L384 73.39 L385.42 73.79 L386.85 74.18 L388.27 74.57 L389.7 74.95 L391.12 75.32 L392.54 75.7 L393.97 76.06 L395.39 76.43 L396.81 76.79 L398.24 77.14 L399.66 77.49 L401.09 77.84 L402.51 78.18 L403.93 78.51 L405.36 78.85 L406.78 79.18 L408.2 79.5 L409.63 79.83 L411.05 80.14 L412.48 80.46 L413.9 80.77 L415.32 81.08 L416.75 81.38 L418.17 81.69 L419.59 81.99 L421.02 82.28 L422.44 82.57 L423.87 82.86 L425.29 83.15 L426.71 83.43 L428.14 83.71 L429.56 83.99 L430.98 84.27 L432.41 84.54 L433.83 84.81 L435.26 85.08 L436.68 85.34 L438.1 85.61 L439.53 85.87 L440.95 86.13 L442.37 86.38 L443.8 86.63 L445.22 86.89 L446.65 87.13 L448.07 87.38 L449.49 87.63 L450.92 87.87 L452.34 88.11 L453.76 88.35 L455.19 88.58 L456.61 88.82 L458.04 89.05 L459.46 89.28 L460.88 89.51 L462.31 89.74 L463.73 89.96 L465.15 90.19 L466.58 90.41 L468 90.63 L469.43 90.84 L470.85 91.06 L472.27 91.28 L473.7 91.49 L475.12 91.7 L476.54 91.91 L477.97 92.12 L479.39 92.33 L480.82 92.53 L482.24 92.73 L483.66 92.94 L485.09 93.14 L486.51 93.34 L487.93 93.53 L489.36 93.73 L490.78 93.93 L492.21 94.12 L493.63 94.31 L495.05 94.5 L496.48 94.69 L497.9 94.88" fill="none" stroke="#3db54a" stroke-width="1.35" stroke-linejoin="round"/>
<path d="M300 25.1 L301.42 26.87 L302.85 28.55 L304.27 30.15 L305.69 31.67 L307.12 33.13 L308.54 34.53 L309.97 35.88 L311.39 37.17 L312.81 38.42 L314.24 39.62 L315.66 40.79 L317.08 41.92 L318.51 43.01 L319.93 44.07 L321.36 45.1 L322.78 46.1 L324.2 47.08 L325.63 48.03 L327.05 48.96 L328.47 49.86 L329.9 50.75 L331.32 51.61 L332.75 52.45 L334.17 53.28 L335.59 54.09 L337.02 54.88 L338.44 55.66 L339.86 56.42 L341.29 57.17 L342.71 57.9 L344.14 58.62 L345.56 59.33 L346.98 60.03 L348.41 60.71 L349.83 61.38 L351.25 62.04 L352.68 62.7 L354.1 63.34 L355.53 63.97 L356.95 64.6 L358.37 65.21 L359.8 65.82 L361.22 66.41 L362.64 67 L364.07 67.58 L365.49 68.16 L366.92 68.72 L368.34 69.28 L369.76 69.84 L371.19 70.38 L372.61 70.92 L374.03 71.46 L375.46 71.98 L376.88 72.5 L378.31 73.02 L379.73 73.53 L381.15 74.04 L382.58 74.53 L384 75.03 L385.42 75.52 L386.85 76 L388.27 76.48 L389.7 76.96 L391.12 77.43 L392.54 77.89 L393.97 78.35 L395.39 78.81 L396.81 79.26 L398.24 79.71 L399.66 80.16 L401.09 80.6 L402.51 81.04 L403.93 81.47 L405.36 81.9 L406.78 82.33 L408.2 82.75 L409.63 83.17 L411.05 83.59 L412.48 84 L413.9 84.41 L415.32 84.82 L416.75 85.23 L418.17 85.63 L419.59 86.03 L421.02 86.42 L422.44 86.82 L423.87 87.21 L425.29 87.59 L426.71 87.98 L428.14 88.36 L429.56 88.74 L430.98 89.12 L432.41 89.49 L433.83 89.87 L435.26 90.24 L436.68 90.6 L438.1 90.97 L439.53 91.33 L440.95 91.69 L442.37 92.05 L443.8 92.41 L445.22 92.76 L446.65 93.12 L448.07 93.47 L449.49 93.82 L450.92 94.16 L452.34 94.51 L453.76 94.85 L455.19 95.19 L456.61 95.53 L458.04 95.87 L459.46 96.2 L460.88 96.54 L462.31 96.87 L463.73 97.2 L465.15 97.53 L466.58 97.86 L468 98.18 L469.43 98.51 L470.85 98.83 L472.27 99.15 L473.7 99.47 L475.12 99.79 L476.54 100.1 L477.97 100.42 L479.39 100.73 L480.82 101.05 L482.24 101.36 L483.66 101.67 L485.09 101.97 L486.51 102.28 L487.93 102.59 L489.36 102.89 L490.78 103.19 L492.21 103.49 L493.63 103.79 L495.05 104.09 L496.48 104.39 L497.9 104.69" fill="none" stroke="#c8102e" stroke-width="1.35" stroke-linejoin="round"/>
<path d="M300 25.1 L301.42 26.66 L302.85 28.17 L304.27 29.62 L305.69 31.02 L307.12 32.37 L308.54 33.69 L309.97 34.96 L311.39 36.19 L312.81 37.4 L314.24 38.56 L315.66 39.7 L317.08 40.81 L318.51 41.89 L319.93 42.94 L321.36 43.97 L322.78 44.97 L324.2 45.95 L325.63 46.92 L327.05 47.86 L328.47 48.78 L329.9 49.68 L331.32 50.56 L332.75 51.43 L334.17 52.28 L335.59 53.12 L337.02 53.94 L338.44 54.75 L339.86 55.54 L341.29 56.32 L342.71 57.09 L344.14 57.84 L345.56 58.58 L346.98 59.31 L348.41 60.03 L349.83 60.74 L351.25 61.44 L352.68 62.13 L354.1 62.81 L355.53 63.48 L356.95 64.14 L358.37 64.79 L359.8 65.44 L361.22 66.07 L362.64 66.7 L364.07 67.32 L365.49 67.93 L366.92 68.53 L368.34 69.13 L369.76 69.72 L371.19 70.31 L372.61 70.88 L374.03 71.45 L375.46 72.02 L376.88 72.58 L378.31 73.13 L379.73 73.68 L381.15 74.22 L382.58 74.75 L384 75.28 L385.42 75.81 L386.85 76.33 L388.27 76.84 L389.7 77.35 L391.12 77.86 L392.54 78.36 L393.97 78.86 L395.39 79.35 L396.81 79.84 L398.24 80.32 L399.66 80.8 L401.09 81.27 L402.51 81.74 L403.93 82.21 L405.36 82.68 L406.78 83.13 L408.2 83.59 L409.63 84.04 L411.05 84.49 L412.48 84.94 L413.9 85.38 L415.32 85.82 L416.75 86.25 L418.17 86.68 L419.59 87.11 L421.02 87.54 L422.44 87.96 L423.87 88.38 L425.29 88.8 L426.71 89.21 L428.14 89.62 L429.56 90.03 L430.98 90.44 L432.41 90.84 L433.83 91.24 L435.26 91.64 L436.68 92.04 L438.1 92.43 L439.53 92.82 L440.95 93.21 L442.37 93.59 L443.8 93.98 L445.22 94.36 L446.65 94.74 L448.07 95.11 L449.49 95.49 L450.92 95.86 L452.34 96.23 L453.76 96.6 L455.19 96.96 L456.61 97.33 L458.04 97.69 L459.46 98.05 L460.88 98.4 L462.31 98.76 L463.73 99.11 L465.15 99.47 L466.58 99.82 L468 100.17 L469.43 100.51 L470.85 100.86 L472.27 101.2 L473.7 101.54 L475.12 101.88 L476.54 102.22 L477.97 102.56 L479.39 102.89 L480.82 103.23 L482.24 103.56 L483.66 103.89 L485.09 104.22 L486.51 104.54 L487.93 104.87 L489.36 105.19 L490.78 105.52 L492.21 105.84 L493.63 106.16 L495.05 106.47 L496.48 106.79 L497.9 107.11" fill="none" stroke="#154d88" stroke-width="1.35" stroke-linejoin="round"/>
</g>
<line x1="299.93" y1="20.9" x2="299.93" y2="128.4" stroke="#383838" stroke-width="1.6"/>
<line x1="299.93" y1="125.2" x2="502.1" y2="125.2" stroke="#141414" stroke-width="1.5"/>
<line x1="296.83" y1="25.1" x2="299.93" y2="25.1" stroke="#474747" stroke-width="1.2"/>
<text x="295.48" y="27.9" font-size="8.2" text-anchor="end" class="t">1.00</text>
<line x1="296.83" y1="56.33" x2="299.93" y2="56.33" stroke="#474747" stroke-width="1.2"/>
<text x="295.48" y="59.13" font-size="8.2" text-anchor="end" class="t">0.95</text>
<line x1="296.83" y1="87.56" x2="299.93" y2="87.56" stroke="#474747" stroke-width="1.2"/>
<text x="295.48" y="90.36" font-size="8.2" text-anchor="end" class="t">0.90</text>
<line x1="296.83" y1="118.79" x2="299.93" y2="118.79" stroke="#474747" stroke-width="1.2"/>
<text x="295.48" y="121.59" font-size="8.2" text-anchor="end" class="t">0.85</text>
<line x1="300" y1="125.2" x2="300" y2="128.7" stroke="#1c1c1c" stroke-width="1.2"/>
<text x="300" y="136.8" font-size="8.2" text-anchor="middle" class="t">0</text>
<line x1="349.47" y1="125.2" x2="349.47" y2="128.7" stroke="#1c1c1c" stroke-width="1.2"/>
<text x="349.47" y="136.8" font-size="8.2" text-anchor="middle" class="t">7</text>
<line x1="398.95" y1="125.2" x2="398.95" y2="128.7" stroke="#1c1c1c" stroke-width="1.2"/>
<text x="398.95" y="136.8" font-size="8.2" text-anchor="middle" class="t">14</text>
<line x1="448.42" y1="125.2" x2="448.42" y2="128.7" stroke="#1c1c1c" stroke-width="1.2"/>
<text x="448.42" y="136.8" font-size="8.2" text-anchor="middle" class="t">21</text>
<line x1="497.9" y1="125.2" x2="497.9" y2="128.7" stroke="#1c1c1c" stroke-width="1.2"/>
<text x="497.9" y="136.8" font-size="8.2" text-anchor="middle" class="t">28</text>
<text x="342.1" y="15.9" font-size="9.9" text-anchor="start" textLength="112.9" lengthAdjust="spacingAndGlyphs" class="h">2−Week storage threshold</text>
<g>
<path d="M40.9 207.3 L42.32 208.88 L43.75 210.37 L45.17 211.78 L46.59 213.11 L48.02 214.39 L49.44 215.6 L50.86 216.76 L52.28 217.87 L53.71 218.94 L55.13 219.97 L56.55 220.97 L57.98 221.93 L59.4 222.86 L60.82 223.76 L62.25 224.64 L63.67 225.49 L65.09 226.32 L66.51 227.14 L67.94 227.93 L69.36 228.71 L70.78 229.46 L72.21 230.2 L73.63 230.93 L75.05 231.63 L76.48 232.33 L77.9 233.01 L79.32 233.67 L80.74 234.32 L82.17 234.96 L83.59 235.58 L85.01 236.19 L86.44 236.79 L87.86 237.37 L89.28 237.94 L90.71 238.5 L92.13 239.05 L93.55 239.58 L94.97 240.11 L96.4 240.63 L97.82 241.13 L99.24 241.63 L100.67 242.12 L102.09 242.6 L103.51 243.07 L104.94 243.53 L106.36 243.99 L107.78 244.44 L109.21 244.89 L110.63 245.32 L112.05 245.75 L113.47 246.18 L114.9 246.6 L116.32 247.01 L117.74 247.42 L119.17 247.82 L120.59 248.22 L122.01 248.61 L123.44 249 L124.86 249.39 L126.28 249.77 L127.7 250.15 L129.13 250.53 L130.55 250.9 L131.97 251.27 L133.4 251.63 L134.82 252 L136.24 252.36 L137.67 252.72 L139.09 253.07 L140.51 253.43 L141.93 253.78 L143.36 254.13 L144.78 254.48 L146.2 254.82 L147.63 255.16 L149.05 255.5 L150.47 255.84 L151.9 256.18 L153.32 256.51 L154.74 256.84 L156.16 257.17 L157.59 257.49 L159.01 257.82 L160.43 258.14 L161.86 258.46 L163.28 258.77 L164.7 259.09 L166.13 259.4 L167.55 259.71 L168.97 260.01 L170.39 260.32 L171.82 260.62 L173.24 260.92 L174.66 261.21 L176.09 261.5 L177.51 261.79 L178.93 262.08 L180.36 262.37 L181.78 262.65 L183.2 262.93 L184.63 263.2 L186.05 263.48 L187.47 263.75 L188.89 264.01 L190.32 264.28 L191.74 264.54 L193.16 264.8 L194.59 265.05 L196.01 265.31 L197.43 265.56 L198.86 265.81 L200.28 266.06 L201.7 266.3 L203.12 266.55 L204.55 266.79 L205.97 267.03 L207.39 267.26 L208.82 267.5 L210.24 267.73 L211.66 267.96 L213.09 268.19 L214.51 268.42 L215.93 268.64 L217.35 268.87 L218.78 269.09 L220.2 269.31 L221.62 269.53 L223.05 269.74 L224.47 269.96 L225.89 270.17 L227.32 270.38 L228.74 270.59 L230.16 270.8 L231.58 271 L233.01 271.21 L234.43 271.41 L235.85 271.61 L237.28 271.81 L238.7 272.01 L238.7 286.81 L237.28 286.51 L235.85 286.21 L234.43 285.91 L233.01 285.61 L231.58 285.31 L230.16 285 L228.74 284.7 L227.32 284.4 L225.89 284.09 L224.47 283.78 L223.05 283.48 L221.62 283.17 L220.2 282.86 L218.78 282.55 L217.35 282.24 L215.93 281.93 L214.51 281.61 L213.09 281.3 L211.66 280.99 L210.24 280.67 L208.82 280.35 L207.39 280.03 L205.97 279.71 L204.55 279.39 L203.12 279.07 L201.7 278.75 L200.28 278.43 L198.86 278.1 L197.43 277.78 L196.01 277.45 L194.59 277.12 L193.16 276.79 L191.74 276.46 L190.32 276.13 L188.89 275.8 L187.47 275.46 L186.05 275.13 L184.63 274.79 L183.2 274.45 L181.78 274.11 L180.36 273.77 L178.93 273.43 L177.51 273.09 L176.09 272.75 L174.66 272.4 L173.24 272.05 L171.82 271.7 L170.39 271.35 L168.97 271 L167.55 270.64 L166.13 270.28 L164.7 269.92 L163.28 269.56 L161.86 269.19 L160.43 268.82 L159.01 268.45 L157.59 268.07 L156.16 267.69 L154.74 267.31 L153.32 266.92 L151.9 266.53 L150.47 266.14 L149.05 265.74 L147.63 265.34 L146.2 264.93 L144.78 264.52 L143.36 264.11 L141.93 263.69 L140.51 263.26 L139.09 262.83 L137.67 262.4 L136.24 261.96 L134.82 261.51 L133.4 261.06 L131.97 260.6 L130.55 260.14 L129.13 259.67 L127.7 259.19 L126.28 258.71 L124.86 258.22 L123.44 257.73 L122.01 257.23 L120.59 256.73 L119.17 256.21 L117.74 255.7 L116.32 255.17 L114.9 254.64 L113.47 254.11 L112.05 253.56 L110.63 253.01 L109.21 252.46 L107.78 251.89 L106.36 251.32 L104.94 250.74 L103.51 250.16 L102.09 249.57 L100.67 248.97 L99.24 248.36 L97.82 247.74 L96.4 247.12 L94.97 246.48 L93.55 245.84 L92.13 245.19 L90.71 244.53 L89.28 243.86 L87.86 243.18 L86.44 242.49 L85.01 241.79 L83.59 241.08 L82.17 240.35 L80.74 239.61 L79.32 238.86 L77.9 238.09 L76.48 237.3 L75.05 236.5 L73.63 235.68 L72.21 234.83 L70.78 233.97 L69.36 233.08 L67.94 232.17 L66.51 231.23 L65.09 230.27 L63.67 229.27 L62.25 228.24 L60.82 227.18 L59.4 226.09 L57.98 224.95 L56.55 223.78 L55.13 222.57 L53.71 221.31 L52.28 220 L50.86 218.64 L49.44 217.23 L48.02 215.76 L46.59 214.23 L45.17 212.62 L43.75 210.94 L42.32 209.17 L40.9 207.3Z" fill="#3cb44b" fill-opacity="0.26"/>
<path d="M40.9 207.3 L42.32 208.53 L43.75 209.71 L45.17 210.85 L46.59 211.95 L48.02 213.01 L49.44 214.05 L50.86 215.05 L52.28 216.03 L53.71 216.98 L55.13 217.91 L56.55 218.81 L57.98 219.7 L59.4 220.56 L60.82 221.41 L62.25 222.24 L63.67 223.06 L65.09 223.86 L66.51 224.65 L67.94 225.43 L69.36 226.19 L70.78 226.93 L72.21 227.66 L73.63 228.38 L75.05 229.08 L76.48 229.77 L77.9 230.46 L79.32 231.13 L80.74 231.8 L82.17 232.46 L83.59 233.11 L85.01 233.75 L86.44 234.39 L87.86 235.03 L89.28 235.66 L90.71 236.29 L92.13 236.91 L93.55 237.53 L94.97 238.14 L96.4 238.75 L97.82 239.35 L99.24 239.94 L100.67 240.53 L102.09 241.11 L103.51 241.68 L104.94 242.25 L106.36 242.81 L107.78 243.36 L109.21 243.91 L110.63 244.44 L112.05 244.98 L113.47 245.5 L114.9 246.01 L116.32 246.52 L117.74 247.02 L119.17 247.52 L120.59 248.01 L122.01 248.49 L123.44 248.97 L124.86 249.44 L126.28 249.91 L127.7 250.37 L129.13 250.83 L130.55 251.28 L131.97 251.73 L133.4 252.18 L134.82 252.62 L136.24 253.06 L137.67 253.5 L139.09 253.93 L140.51 254.37 L141.93 254.8 L143.36 255.22 L144.78 255.65 L146.2 256.07 L147.63 256.49 L149.05 256.9 L150.47 257.31 L151.9 257.72 L153.32 258.13 L154.74 258.54 L156.16 258.94 L157.59 259.34 L159.01 259.73 L160.43 260.12 L161.86 260.51 L163.28 260.9 L164.7 261.28 L166.13 261.66 L167.55 262.04 L168.97 262.42 L170.39 262.79 L171.82 263.16 L173.24 263.52 L174.66 263.88 L176.09 264.24 L177.51 264.6 L178.93 264.95 L180.36 265.3 L181.78 265.65 L183.2 265.99 L184.63 266.33 L186.05 266.66 L187.47 266.99 L188.89 267.32 L190.32 267.65 L191.74 267.97 L193.16 268.28 L194.59 268.6 L196.01 268.91 L197.43 269.21 L198.86 269.52 L200.28 269.82 L201.7 270.12 L203.12 270.41 L204.55 270.7 L205.97 270.99 L207.39 271.28 L208.82 271.56 L210.24 271.84 L211.66 272.11 L213.09 272.39 L214.51 272.66 L215.93 272.93 L217.35 273.19 L218.78 273.46 L220.2 273.72 L221.62 273.97 L223.05 274.23 L224.47 274.48 L225.89 274.74 L227.32 274.98 L228.74 275.23 L230.16 275.47 L231.58 275.72 L233.01 275.96 L234.43 276.19 L235.85 276.43 L237.28 276.66 L238.7 276.9 L238.7 295.3 L237.28 294.93 L235.85 294.56 L234.43 294.18 L233.01 293.81 L231.58 293.44 L230.16 293.07 L228.74 292.69 L227.32 292.32 L225.89 291.94 L224.47 291.56 L223.05 291.19 L221.62 290.81 L220.2 290.43 L218.78 290.05 L217.35 289.67 L215.93 289.29 L214.51 288.91 L213.09 288.52 L211.66 288.14 L210.24 287.76 L208.82 287.37 L207.39 286.99 L205.97 286.6 L204.55 286.21 L203.12 285.82 L201.7 285.43 L200.28 285.05 L198.86 284.66 L197.43 284.26 L196.01 283.87 L194.59 283.48 L193.16 283.09 L191.74 282.69 L190.32 282.3 L188.89 281.9 L187.47 281.51 L186.05 281.11 L184.63 280.71 L183.2 280.31 L181.78 279.91 L180.36 279.51 L178.93 279.11 L177.51 278.7 L176.09 278.29 L174.66 277.89 L173.24 277.48 L171.82 277.06 L170.39 276.65 L168.97 276.23 L167.55 275.81 L166.13 275.39 L164.7 274.96 L163.28 274.54 L161.86 274.11 L160.43 273.67 L159.01 273.24 L157.59 272.79 L156.16 272.35 L154.74 271.9 L153.32 271.45 L151.9 271 L150.47 270.54 L149.05 270.07 L147.63 269.61 L146.2 269.14 L144.78 268.66 L143.36 268.18 L141.93 267.69 L140.51 267.2 L139.09 266.7 L137.67 266.2 L136.24 265.69 L134.82 265.18 L133.4 264.66 L131.97 264.13 L130.55 263.6 L129.13 263.06 L127.7 262.52 L126.28 261.97 L124.86 261.42 L123.44 260.86 L122.01 260.3 L120.59 259.73 L119.17 259.16 L117.74 258.58 L116.32 257.99 L114.9 257.4 L113.47 256.81 L112.05 256.21 L110.63 255.61 L109.21 255 L107.78 254.38 L106.36 253.76 L104.94 253.13 L103.51 252.5 L102.09 251.85 L100.67 251.2 L99.24 250.53 L97.82 249.86 L96.4 249.17 L94.97 248.48 L93.55 247.77 L92.13 247.05 L90.71 246.32 L89.28 245.57 L87.86 244.8 L86.44 244.02 L85.01 243.22 L83.59 242.41 L82.17 241.57 L80.74 240.72 L79.32 239.85 L77.9 238.97 L76.48 238.06 L75.05 237.14 L73.63 236.2 L72.21 235.24 L70.78 234.27 L69.36 233.27 L67.94 232.26 L66.51 231.22 L65.09 230.16 L63.67 229.08 L62.25 227.97 L60.82 226.84 L59.4 225.67 L57.98 224.47 L56.55 223.25 L55.13 221.99 L53.71 220.7 L52.28 219.37 L50.86 218.01 L49.44 216.61 L48.02 215.17 L46.59 213.69 L45.17 212.16 L43.75 210.59 L42.32 208.97 L40.9 207.3Z" fill="#1f5a96" fill-opacity="0.25"/>
<path d="M40.9 207.4 L42.32 208.87 L43.75 210.28 L45.17 211.62 L46.59 212.91 L48.02 214.15 L49.44 215.33 L50.86 216.48 L52.28 217.59 L53.71 218.66 L55.13 219.71 L56.55 220.72 L57.98 221.7 L59.4 222.66 L60.82 223.6 L62.25 224.52 L63.67 225.42 L65.09 226.3 L66.51 227.16 L67.94 228 L69.36 228.83 L70.78 229.64 L72.21 230.43 L73.63 231.21 L75.05 231.97 L76.48 232.72 L77.9 233.45 L79.32 234.17 L80.74 234.87 L82.17 235.56 L83.59 236.23 L85.01 236.9 L86.44 237.55 L87.86 238.19 L89.28 238.81 L90.71 239.43 L92.13 240.03 L93.55 240.62 L94.97 241.2 L96.4 241.77 L97.82 242.33 L99.24 242.88 L100.67 243.42 L102.09 243.95 L103.51 244.47 L104.94 244.98 L106.36 245.49 L107.78 245.98 L109.21 246.47 L110.63 246.96 L112.05 247.43 L113.47 247.9 L114.9 248.37 L116.32 248.83 L117.74 249.28 L119.17 249.73 L120.59 250.17 L122.01 250.61 L123.44 251.05 L124.86 251.48 L126.28 251.91 L127.7 252.33 L129.13 252.75 L130.55 253.17 L131.97 253.58 L133.4 253.99 L134.82 254.4 L136.24 254.81 L137.67 255.21 L139.09 255.61 L140.51 256 L141.93 256.4 L143.36 256.79 L144.78 257.18 L146.2 257.56 L147.63 257.95 L149.05 258.33 L150.47 258.71 L151.9 259.09 L153.32 259.47 L154.74 259.84 L156.16 260.21 L157.59 260.58 L159.01 260.95 L160.43 261.31 L161.86 261.68 L163.28 262.03 L164.7 262.39 L166.13 262.75 L167.55 263.1 L168.97 263.45 L170.39 263.79 L171.82 264.14 L173.24 264.48 L174.66 264.82 L176.09 265.15 L177.51 265.49 L178.93 265.82 L180.36 266.15 L181.78 266.47 L183.2 266.8 L184.63 267.12 L186.05 267.43 L187.47 267.75 L188.89 268.06 L190.32 268.37 L191.74 268.68 L193.16 268.98 L194.59 269.28 L196.01 269.58 L197.43 269.88 L198.86 270.18 L200.28 270.47 L201.7 270.76 L203.12 271.05 L204.55 271.33 L205.97 271.62 L207.39 271.9 L208.82 272.18 L210.24 272.46 L211.66 272.73 L213.09 273.01 L214.51 273.28 L215.93 273.55 L217.35 273.82 L218.78 274.09 L220.2 274.35 L221.62 274.61 L223.05 274.87 L224.47 275.13 L225.89 275.39 L227.32 275.65 L228.74 275.9 L230.16 276.16 L231.58 276.41 L233.01 276.66 L234.43 276.9 L235.85 277.15 L237.28 277.39 L238.7 277.64 L238.7 289.84 L237.28 289.52 L235.85 289.2 L234.43 288.88 L233.01 288.56 L231.58 288.24 L230.16 287.92 L228.74 287.59 L227.32 287.27 L225.89 286.94 L224.47 286.61 L223.05 286.29 L221.62 285.96 L220.2 285.63 L218.78 285.3 L217.35 284.96 L215.93 284.63 L214.51 284.29 L213.09 283.96 L211.66 283.62 L210.24 283.28 L208.82 282.94 L207.39 282.6 L205.97 282.26 L204.55 281.92 L203.12 281.57 L201.7 281.23 L200.28 280.88 L198.86 280.53 L197.43 280.18 L196.01 279.83 L194.59 279.47 L193.16 279.12 L191.74 278.76 L190.32 278.41 L188.89 278.05 L187.47 277.69 L186.05 277.33 L184.63 276.96 L183.2 276.6 L181.78 276.23 L180.36 275.87 L178.93 275.5 L177.51 275.13 L176.09 274.75 L174.66 274.38 L173.24 274 L171.82 273.62 L170.39 273.24 L168.97 272.86 L167.55 272.47 L166.13 272.09 L164.7 271.7 L163.28 271.3 L161.86 270.91 L160.43 270.51 L159.01 270.11 L157.59 269.71 L156.16 269.3 L154.74 268.89 L153.32 268.48 L151.9 268.06 L150.47 267.65 L149.05 267.22 L147.63 266.8 L146.2 266.37 L144.78 265.94 L143.36 265.51 L141.93 265.07 L140.51 264.63 L139.09 264.18 L137.67 263.73 L136.24 263.28 L134.82 262.83 L133.4 262.37 L131.97 261.9 L130.55 261.44 L129.13 260.97 L127.7 260.49 L126.28 260.02 L124.86 259.53 L123.44 259.05 L122.01 258.56 L120.59 258.06 L119.17 257.56 L117.74 257.05 L116.32 256.53 L114.9 256.01 L113.47 255.49 L112.05 254.95 L110.63 254.41 L109.21 253.86 L107.78 253.31 L106.36 252.74 L104.94 252.17 L103.51 251.59 L102.09 250.99 L100.67 250.39 L99.24 249.78 L97.82 249.15 L96.4 248.52 L94.97 247.87 L93.55 247.21 L92.13 246.53 L90.71 245.85 L89.28 245.15 L87.86 244.44 L86.44 243.71 L85.01 242.96 L83.59 242.21 L82.17 241.43 L80.74 240.64 L79.32 239.83 L77.9 239 L76.48 238.16 L75.05 237.29 L73.63 236.41 L72.21 235.5 L70.78 234.57 L69.36 233.63 L67.94 232.65 L66.51 231.66 L65.09 230.64 L63.67 229.59 L62.25 228.51 L60.82 227.39 L59.4 226.25 L57.98 225.07 L56.55 223.85 L55.13 222.6 L53.71 221.3 L52.28 219.97 L50.86 218.59 L49.44 217.16 L48.02 215.68 L46.59 214.15 L45.17 212.56 L43.75 210.91 L42.32 209.19 L40.9 207.4Z" fill="#dc143c" fill-opacity="0.22"/>
<path d="M40.9 207.3 L42.32 209.02 L43.75 210.65 L45.17 212.2 L46.59 213.67 L48.02 215.07 L49.44 216.42 L50.86 217.7 L52.28 218.94 L53.71 220.12 L55.13 221.27 L56.55 222.37 L57.98 223.44 L59.4 224.47 L60.82 225.47 L62.25 226.44 L63.67 227.38 L65.09 228.3 L66.51 229.18 L67.94 230.05 L69.36 230.89 L70.78 231.72 L72.21 232.52 L73.63 233.3 L75.05 234.07 L76.48 234.81 L77.9 235.55 L79.32 236.26 L80.74 236.97 L82.17 237.65 L83.59 238.33 L85.01 238.99 L86.44 239.64 L87.86 240.27 L89.28 240.9 L90.71 241.51 L92.13 242.12 L93.55 242.71 L94.97 243.3 L96.4 243.87 L97.82 244.44 L99.24 244.99 L100.67 245.54 L102.09 246.08 L103.51 246.61 L104.94 247.14 L106.36 247.66 L107.78 248.17 L109.21 248.67 L110.63 249.17 L112.05 249.66 L113.47 250.14 L114.9 250.62 L116.32 251.09 L117.74 251.56 L119.17 252.02 L120.59 252.47 L122.01 252.92 L123.44 253.37 L124.86 253.81 L126.28 254.24 L127.7 254.67 L129.13 255.1 L130.55 255.52 L131.97 255.93 L133.4 256.35 L134.82 256.75 L136.24 257.16 L137.67 257.56 L139.09 257.95 L140.51 258.35 L141.93 258.73 L143.36 259.12 L144.78 259.5 L146.2 259.88 L147.63 260.25 L149.05 260.62 L150.47 260.99 L151.9 261.36 L153.32 261.72 L154.74 262.08 L156.16 262.43 L157.59 262.78 L159.01 263.13 L160.43 263.48 L161.86 263.82 L163.28 264.17 L164.7 264.5 L166.13 264.84 L167.55 265.17 L168.97 265.51 L170.39 265.83 L171.82 266.16 L173.24 266.48 L174.66 266.81 L176.09 267.13 L177.51 267.44 L178.93 267.76 L180.36 268.07 L181.78 268.38 L183.2 268.69 L184.63 269 L186.05 269.3 L187.47 269.6 L188.89 269.9 L190.32 270.2 L191.74 270.5 L193.16 270.79 L194.59 271.09 L196.01 271.38 L197.43 271.67 L198.86 271.96 L200.28 272.24 L201.7 272.53 L203.12 272.81 L204.55 273.09 L205.97 273.37 L207.39 273.65 L208.82 273.93 L210.24 274.2 L211.66 274.47 L213.09 274.75 L214.51 275.02 L215.93 275.29 L217.35 275.55 L218.78 275.82 L220.2 276.08 L221.62 276.35 L223.05 276.61 L224.47 276.87 L225.89 277.13 L227.32 277.39 L228.74 277.64 L230.16 277.9 L231.58 278.15 L233.01 278.41 L234.43 278.66 L235.85 278.91 L237.28 279.16 L238.7 279.41" fill="none" stroke="#3db54a" stroke-width="1.35" stroke-linejoin="round"/>
<path d="M40.9 207.3 L42.32 208.75 L43.75 210.15 L45.17 211.5 L46.59 212.82 L48.02 214.09 L49.44 215.33 L50.86 216.53 L52.28 217.7 L53.71 218.84 L55.13 219.95 L56.55 221.03 L57.98 222.08 L59.4 223.12 L60.82 224.12 L62.25 225.11 L63.67 226.07 L65.09 227.01 L66.51 227.94 L67.94 228.84 L69.36 229.73 L70.78 230.6 L72.21 231.45 L73.63 232.29 L75.05 233.11 L76.48 233.92 L77.9 234.71 L79.32 235.49 L80.74 236.26 L82.17 237.01 L83.59 237.76 L85.01 238.49 L86.44 239.21 L87.86 239.92 L89.28 240.62 L90.71 241.3 L92.13 241.98 L93.55 242.65 L94.97 243.31 L96.4 243.96 L97.82 244.6 L99.24 245.24 L100.67 245.86 L102.09 246.48 L103.51 247.09 L104.94 247.69 L106.36 248.28 L107.78 248.87 L109.21 249.45 L110.63 250.03 L112.05 250.59 L113.47 251.15 L114.9 251.71 L116.32 252.26 L117.74 252.8 L119.17 253.34 L120.59 253.87 L122.01 254.39 L123.44 254.92 L124.86 255.43 L126.28 255.94 L127.7 256.45 L129.13 256.95 L130.55 257.44 L131.97 257.93 L133.4 258.42 L134.82 258.9 L136.24 259.38 L137.67 259.85 L139.09 260.32 L140.51 260.78 L141.93 261.24 L143.36 261.7 L144.78 262.15 L146.2 262.6 L147.63 263.05 L149.05 263.49 L150.47 263.93 L151.9 264.36 L153.32 264.79 L154.74 265.22 L156.16 265.64 L157.59 266.07 L159.01 266.48 L160.43 266.9 L161.86 267.31 L163.28 267.72 L164.7 268.12 L166.13 268.53 L167.55 268.93 L168.97 269.32 L170.39 269.72 L171.82 270.11 L173.24 270.5 L174.66 270.88 L176.09 271.27 L177.51 271.65 L178.93 272.03 L180.36 272.4 L181.78 272.78 L183.2 273.15 L184.63 273.52 L186.05 273.89 L187.47 274.25 L188.89 274.61 L190.32 274.97 L191.74 275.33 L193.16 275.69 L194.59 276.04 L196.01 276.39 L197.43 276.74 L198.86 277.09 L200.28 277.43 L201.7 277.78 L203.12 278.12 L204.55 278.46 L205.97 278.79 L207.39 279.13 L208.82 279.46 L210.24 279.8 L211.66 280.13 L213.09 280.46 L214.51 280.78 L215.93 281.11 L217.35 281.43 L218.78 281.75 L220.2 282.07 L221.62 282.39 L223.05 282.71 L224.47 283.02 L225.89 283.34 L227.32 283.65 L228.74 283.96 L230.16 284.27 L231.58 284.58 L233.01 284.88 L234.43 285.19 L235.85 285.49 L237.28 285.79 L238.7 286.1" fill="none" stroke="#154d88" stroke-width="1.35" stroke-linejoin="round"/>
<path d="M40.9 207.4 L42.32 209.03 L43.75 210.6 L45.17 212.09 L46.59 213.53 L48.02 214.91 L49.44 216.25 L50.86 217.53 L52.28 218.78 L53.71 219.98 L55.13 221.15 L56.55 222.28 L57.98 223.38 L59.4 224.46 L60.82 225.5 L62.25 226.51 L63.67 227.5 L65.09 228.47 L66.51 229.41 L67.94 230.33 L69.36 231.23 L70.78 232.11 L72.21 232.97 L73.63 233.81 L75.05 234.63 L76.48 235.44 L77.9 236.22 L79.32 237 L80.74 237.75 L82.17 238.49 L83.59 239.22 L85.01 239.93 L86.44 240.63 L87.86 241.31 L89.28 241.98 L90.71 242.64 L92.13 243.28 L93.55 243.91 L94.97 244.53 L96.4 245.14 L97.82 245.74 L99.24 246.33 L100.67 246.9 L102.09 247.47 L103.51 248.03 L104.94 248.58 L106.36 249.12 L107.78 249.65 L109.21 250.17 L110.63 250.69 L112.05 251.19 L113.47 251.7 L114.9 252.19 L116.32 252.68 L117.74 253.17 L119.17 253.64 L120.59 254.12 L122.01 254.58 L123.44 255.05 L124.86 255.51 L126.28 255.96 L127.7 256.41 L129.13 256.86 L130.55 257.3 L131.97 257.74 L133.4 258.18 L134.82 258.61 L136.24 259.04 L137.67 259.47 L139.09 259.89 L140.51 260.31 L141.93 260.73 L143.36 261.15 L144.78 261.56 L146.2 261.97 L147.63 262.37 L149.05 262.78 L150.47 263.18 L151.9 263.58 L153.32 263.97 L154.74 264.37 L156.16 264.76 L157.59 265.14 L159.01 265.53 L160.43 265.91 L161.86 266.29 L163.28 266.67 L164.7 267.04 L166.13 267.42 L167.55 267.79 L168.97 268.15 L170.39 268.52 L171.82 268.88 L173.24 269.24 L174.66 269.6 L176.09 269.95 L177.51 270.31 L178.93 270.66 L180.36 271.01 L181.78 271.35 L183.2 271.7 L184.63 272.04 L186.05 272.38 L187.47 272.72 L188.89 273.05 L190.32 273.39 L191.74 273.72 L193.16 274.05 L194.59 274.38 L196.01 274.71 L197.43 275.03 L198.86 275.35 L200.28 275.67 L201.7 275.99 L203.12 276.31 L204.55 276.63 L205.97 276.94 L207.39 277.25 L208.82 277.56 L210.24 277.87 L211.66 278.18 L213.09 278.48 L214.51 278.79 L215.93 279.09 L217.35 279.39 L218.78 279.69 L220.2 279.99 L221.62 280.29 L223.05 280.58 L224.47 280.87 L225.89 281.17 L227.32 281.46 L228.74 281.75 L230.16 282.04 L231.58 282.32 L233.01 282.61 L234.43 282.89 L235.85 283.18 L237.28 283.46 L238.7 283.74" fill="none" stroke="#c8102e" stroke-width="1.35" stroke-linejoin="round"/>
</g>
<line x1="40.95" y1="203.1" x2="40.95" y2="310.65" stroke="#383838" stroke-width="1.6"/>
<line x1="40.95" y1="307.45" x2="242.9" y2="307.45" stroke="#141414" stroke-width="1.5"/>
<line x1="37.85" y1="207.3" x2="40.95" y2="207.3" stroke="#474747" stroke-width="1.2"/>
<text x="36.5" y="210.1" font-size="8.2" text-anchor="end" class="t">1.00</text>
<line x1="37.85" y1="238.53" x2="40.95" y2="238.53" stroke="#474747" stroke-width="1.2"/>
<text x="36.5" y="241.33" font-size="8.2" text-anchor="end" class="t">0.95</text>
<line x1="37.85" y1="269.76" x2="40.95" y2="269.76" stroke="#474747" stroke-width="1.2"/>
<text x="36.5" y="272.56" font-size="8.2" text-anchor="end" class="t">0.90</text>
<line x1="37.85" y1="300.99" x2="40.95" y2="300.99" stroke="#474747" stroke-width="1.2"/>
<text x="36.5" y="303.79" font-size="8.2" text-anchor="end" class="t">0.85</text>
<line x1="40.9" y1="307.45" x2="40.9" y2="310.95" stroke="#1c1c1c" stroke-width="1.2"/>
<text x="40.9" y="319.05" font-size="8.2" text-anchor="middle" class="t">0</text>
<line x1="90.35" y1="307.45" x2="90.35" y2="310.95" stroke="#1c1c1c" stroke-width="1.2"/>
<text x="90.35" y="319.05" font-size="8.2" text-anchor="middle" class="t">7</text>
<line x1="139.8" y1="307.45" x2="139.8" y2="310.95" stroke="#1c1c1c" stroke-width="1.2"/>
<text x="139.8" y="319.05" font-size="8.2" text-anchor="middle" class="t">14</text>
<line x1="189.25" y1="307.45" x2="189.25" y2="310.95" stroke="#1c1c1c" stroke-width="1.2"/>
<text x="189.25" y="319.05" font-size="8.2" text-anchor="middle" class="t">21</text>
<line x1="238.7" y1="307.45" x2="238.7" y2="310.95" stroke="#1c1c1c" stroke-width="1.2"/>
<text x="238.7" y="319.05" font-size="8.2" text-anchor="middle" class="t">28</text>
<text x="83.6" y="198.1" font-size="9.9" text-anchor="start" textLength="112.4" lengthAdjust="spacingAndGlyphs" class="h">3−Week storage threshold</text>
<g>
<path d="M300 207.3 L301.42 208.82 L302.85 210.28 L304.27 211.67 L305.69 213.01 L307.12 214.29 L308.54 215.53 L309.97 216.72 L311.39 217.88 L312.81 218.99 L314.24 220.07 L315.66 221.12 L317.08 222.13 L318.51 223.12 L319.93 224.08 L321.36 225.01 L322.78 225.92 L324.2 226.81 L325.63 227.67 L327.05 228.52 L328.47 229.34 L329.9 230.15 L331.32 230.94 L332.75 231.72 L334.17 232.47 L335.59 233.22 L337.02 233.95 L338.44 234.66 L339.86 235.37 L341.29 236.06 L342.71 236.74 L344.14 237.41 L345.56 238.07 L346.98 238.72 L348.41 239.36 L349.83 239.99 L351.25 240.61 L352.68 241.22 L354.1 241.82 L355.53 242.42 L356.95 243 L358.37 243.58 L359.8 244.15 L361.22 244.71 L362.64 245.26 L364.07 245.81 L365.49 246.35 L366.92 246.88 L368.34 247.4 L369.76 247.92 L371.19 248.44 L372.61 248.94 L374.03 249.44 L375.46 249.94 L376.88 250.43 L378.31 250.91 L379.73 251.39 L381.15 251.86 L382.58 252.33 L384 252.79 L385.42 253.25 L386.85 253.7 L388.27 254.15 L389.7 254.6 L391.12 255.04 L392.54 255.47 L393.97 255.9 L395.39 256.33 L396.81 256.75 L398.24 257.17 L399.66 257.58 L401.09 257.99 L402.51 258.4 L403.93 258.8 L405.36 259.2 L406.78 259.59 L408.2 259.98 L409.63 260.37 L411.05 260.76 L412.48 261.14 L413.9 261.52 L415.32 261.9 L416.75 262.27 L418.17 262.64 L419.59 263.01 L421.02 263.37 L422.44 263.73 L423.87 264.09 L425.29 264.45 L426.71 264.8 L428.14 265.15 L429.56 265.5 L430.98 265.85 L432.41 266.19 L433.83 266.53 L435.26 266.87 L436.68 267.21 L438.1 267.54 L439.53 267.87 L440.95 268.2 L442.37 268.53 L443.8 268.85 L445.22 269.17 L446.65 269.49 L448.07 269.81 L449.49 270.13 L450.92 270.44 L452.34 270.75 L453.76 271.06 L455.19 271.37 L456.61 271.68 L458.04 271.98 L459.46 272.28 L460.88 272.59 L462.31 272.88 L463.73 273.18 L465.15 273.48 L466.58 273.77 L468 274.06 L469.43 274.35 L470.85 274.64 L472.27 274.93 L473.7 275.21 L475.12 275.5 L476.54 275.78 L477.97 276.06 L479.39 276.34 L480.82 276.62 L482.24 276.89 L483.66 277.17 L485.09 277.44 L486.51 277.71 L487.93 277.98 L489.36 278.25 L490.78 278.52 L492.21 278.79 L493.63 279.05 L495.05 279.32 L496.48 279.58 L497.9 279.84 L497.9 283.64 L496.48 283.37 L495.05 283.09 L493.63 282.82 L492.21 282.54 L490.78 282.26 L489.36 281.98 L487.93 281.7 L486.51 281.42 L485.09 281.14 L483.66 280.85 L482.24 280.57 L480.82 280.28 L479.39 279.99 L477.97 279.7 L476.54 279.41 L475.12 279.11 L473.7 278.82 L472.27 278.52 L470.85 278.22 L469.43 277.92 L468 277.62 L466.58 277.32 L465.15 277.01 L463.73 276.7 L462.31 276.4 L460.88 276.09 L459.46 275.77 L458.04 275.46 L456.61 275.14 L455.19 274.83 L453.76 274.51 L452.34 274.19 L450.92 273.86 L449.49 273.54 L448.07 273.21 L446.65 272.88 L445.22 272.55 L443.8 272.22 L442.37 271.88 L440.95 271.54 L439.53 271.2 L438.1 270.86 L436.68 270.52 L435.26 270.17 L433.83 269.82 L432.41 269.47 L430.98 269.11 L429.56 268.76 L428.14 268.4 L426.71 268.04 L425.29 267.67 L423.87 267.3 L422.44 266.94 L421.02 266.56 L419.59 266.19 L418.17 265.81 L416.75 265.43 L415.32 265.04 L413.9 264.65 L412.48 264.26 L411.05 263.87 L409.63 263.47 L408.2 263.07 L406.78 262.66 L405.36 262.26 L403.93 261.84 L402.51 261.43 L401.09 261.01 L399.66 260.59 L398.24 260.16 L396.81 259.73 L395.39 259.29 L393.97 258.85 L392.54 258.41 L391.12 257.96 L389.7 257.51 L388.27 257.05 L386.85 256.59 L385.42 256.12 L384 255.65 L382.58 255.18 L381.15 254.69 L379.73 254.21 L378.31 253.71 L376.88 253.22 L375.46 252.71 L374.03 252.2 L372.61 251.69 L371.19 251.16 L369.76 250.63 L368.34 250.1 L366.92 249.55 L365.49 249 L364.07 248.44 L362.64 247.88 L361.22 247.3 L359.8 246.72 L358.37 246.13 L356.95 245.53 L355.53 244.92 L354.1 244.31 L352.68 243.68 L351.25 243.04 L349.83 242.39 L348.41 241.74 L346.98 241.06 L345.56 240.38 L344.14 239.68 L342.71 238.97 L341.29 238.25 L339.86 237.51 L338.44 236.76 L337.02 235.99 L335.59 235.2 L334.17 234.4 L332.75 233.59 L331.32 232.75 L329.9 231.9 L328.47 231.02 L327.05 230.13 L325.63 229.21 L324.2 228.27 L322.78 227.31 L321.36 226.33 L319.93 225.31 L318.51 224.28 L317.08 223.21 L315.66 222.11 L314.24 220.98 L312.81 219.81 L311.39 218.61 L309.97 217.37 L308.54 216.09 L307.12 214.76 L305.69 213.38 L304.27 211.95 L302.85 210.47 L301.42 208.92 L300 207.3Z" fill="#3cb44b" fill-opacity="0.26"/>
<path d="M300 207.3 L301.42 208.53 L302.85 209.69 L304.27 210.81 L305.69 211.88 L307.12 212.91 L308.54 213.9 L309.97 214.86 L311.39 215.79 L312.81 216.7 L314.24 217.58 L315.66 218.43 L317.08 219.26 L318.51 220.07 L319.93 220.86 L321.36 221.63 L322.78 222.39 L324.2 223.13 L325.63 223.86 L327.05 224.57 L328.47 225.26 L329.9 225.94 L331.32 226.6 L332.75 227.25 L334.17 227.89 L335.59 228.51 L337.02 229.13 L338.44 229.73 L339.86 230.33 L341.29 230.91 L342.71 231.5 L344.14 232.07 L345.56 232.64 L346.98 233.2 L348.41 233.76 L349.83 234.32 L351.25 234.87 L352.68 235.41 L354.1 235.95 L355.53 236.49 L356.95 237.02 L358.37 237.54 L359.8 238.06 L361.22 238.57 L362.64 239.07 L364.07 239.57 L365.49 240.06 L366.92 240.55 L368.34 241.03 L369.76 241.5 L371.19 241.97 L372.61 242.43 L374.03 242.88 L375.46 243.33 L376.88 243.77 L378.31 244.2 L379.73 244.63 L381.15 245.05 L382.58 245.47 L384 245.88 L385.42 246.29 L386.85 246.7 L388.27 247.1 L389.7 247.49 L391.12 247.89 L392.54 248.28 L393.97 248.67 L395.39 249.05 L396.81 249.43 L398.24 249.81 L399.66 250.19 L401.09 250.56 L402.51 250.93 L403.93 251.3 L405.36 251.66 L406.78 252.03 L408.2 252.39 L409.63 252.74 L411.05 253.1 L412.48 253.45 L413.9 253.8 L415.32 254.14 L416.75 254.49 L418.17 254.83 L419.59 255.17 L421.02 255.51 L422.44 255.84 L423.87 256.17 L425.29 256.5 L426.71 256.83 L428.14 257.16 L429.56 257.48 L430.98 257.8 L432.41 258.12 L433.83 258.44 L435.26 258.75 L436.68 259.07 L438.1 259.38 L439.53 259.69 L440.95 259.99 L442.37 260.3 L443.8 260.6 L445.22 260.9 L446.65 261.2 L448.07 261.5 L449.49 261.8 L450.92 262.09 L452.34 262.39 L453.76 262.68 L455.19 262.97 L456.61 263.26 L458.04 263.54 L459.46 263.83 L460.88 264.11 L462.31 264.39 L463.73 264.68 L465.15 264.95 L466.58 265.23 L468 265.51 L469.43 265.78 L470.85 266.06 L472.27 266.33 L473.7 266.6 L475.12 266.87 L476.54 267.14 L477.97 267.41 L479.39 267.68 L480.82 267.94 L482.24 268.21 L483.66 268.47 L485.09 268.73 L486.51 268.99 L487.93 269.25 L489.36 269.51 L490.78 269.77 L492.21 270.03 L493.63 270.28 L495.05 270.54 L496.48 270.79 L497.9 271.04 L497.9 288.44 L496.48 288.15 L495.05 287.85 L493.63 287.55 L492.21 287.25 L490.78 286.95 L489.36 286.65 L487.93 286.35 L486.51 286.04 L485.09 285.74 L483.66 285.43 L482.24 285.12 L480.82 284.81 L479.39 284.5 L477.97 284.19 L476.54 283.87 L475.12 283.56 L473.7 283.24 L472.27 282.93 L470.85 282.61 L469.43 282.29 L468 281.96 L466.58 281.64 L465.15 281.32 L463.73 280.99 L462.31 280.66 L460.88 280.33 L459.46 280 L458.04 279.67 L456.61 279.33 L455.19 279 L453.76 278.66 L452.34 278.32 L450.92 277.98 L449.49 277.64 L448.07 277.29 L446.65 276.94 L445.22 276.6 L443.8 276.25 L442.37 275.89 L440.95 275.54 L439.53 275.19 L438.1 274.83 L436.68 274.47 L435.26 274.11 L433.83 273.74 L432.41 273.38 L430.98 273.01 L429.56 272.64 L428.14 272.27 L426.71 271.89 L425.29 271.52 L423.87 271.14 L422.44 270.75 L421.02 270.37 L419.59 269.98 L418.17 269.59 L416.75 269.2 L415.32 268.8 L413.9 268.4 L412.48 268 L411.05 267.59 L409.63 267.18 L408.2 266.77 L406.78 266.35 L405.36 265.93 L403.93 265.51 L402.51 265.08 L401.09 264.65 L399.66 264.22 L398.24 263.78 L396.81 263.33 L395.39 262.89 L393.97 262.43 L392.54 261.97 L391.12 261.51 L389.7 261.04 L388.27 260.57 L386.85 260.09 L385.42 259.6 L384 259.12 L382.58 258.62 L381.15 258.13 L379.73 257.63 L378.31 257.12 L376.88 256.61 L375.46 256.09 L374.03 255.57 L372.61 255.05 L371.19 254.52 L369.76 253.99 L368.34 253.45 L366.92 252.9 L365.49 252.36 L364.07 251.8 L362.64 251.24 L361.22 250.66 L359.8 250.08 L358.37 249.5 L356.95 248.9 L355.53 248.29 L354.1 247.67 L352.68 247.04 L351.25 246.4 L349.83 245.74 L348.41 245.07 L346.98 244.38 L345.56 243.67 L344.14 242.94 L342.71 242.18 L341.29 241.41 L339.86 240.61 L338.44 239.8 L337.02 238.97 L335.59 238.12 L334.17 237.25 L332.75 236.36 L331.32 235.45 L329.9 234.52 L328.47 233.58 L327.05 232.61 L325.63 231.63 L324.2 230.62 L322.78 229.59 L321.36 228.53 L319.93 227.44 L318.51 226.31 L317.08 225.15 L315.66 223.95 L314.24 222.71 L312.81 221.43 L311.39 220.1 L309.97 218.72 L308.54 217.28 L307.12 215.78 L305.69 214.22 L304.27 212.59 L302.85 210.9 L301.42 209.14 L300 207.3Z" fill="#1f5a96" fill-opacity="0.25"/>
<path d="M300 207.3 L301.42 208.83 L302.85 210.29 L304.27 211.69 L305.69 213.04 L307.12 214.33 L308.54 215.57 L309.97 216.78 L311.39 217.94 L312.81 219.06 L314.24 220.15 L315.66 221.2 L317.08 222.22 L318.51 223.22 L319.93 224.18 L321.36 225.12 L322.78 226.04 L324.2 226.93 L325.63 227.81 L327.05 228.66 L328.47 229.49 L329.9 230.31 L331.32 231.11 L332.75 231.89 L334.17 232.65 L335.59 233.4 L337.02 234.14 L338.44 234.87 L339.86 235.58 L341.29 236.28 L342.71 236.97 L344.14 237.64 L345.56 238.31 L346.98 238.97 L348.41 239.61 L349.83 240.25 L351.25 240.88 L352.68 241.5 L354.1 242.11 L355.53 242.71 L356.95 243.3 L358.37 243.89 L359.8 244.47 L361.22 245.04 L362.64 245.6 L364.07 246.15 L365.49 246.7 L366.92 247.24 L368.34 247.77 L369.76 248.3 L371.19 248.82 L372.61 249.34 L374.03 249.85 L375.46 250.35 L376.88 250.85 L378.31 251.34 L379.73 251.83 L381.15 252.31 L382.58 252.78 L384 253.26 L385.42 253.72 L386.85 254.18 L388.27 254.64 L389.7 255.09 L391.12 255.54 L392.54 255.98 L393.97 256.42 L395.39 256.86 L396.81 257.29 L398.24 257.71 L399.66 258.13 L401.09 258.55 L402.51 258.97 L403.93 259.38 L405.36 259.78 L406.78 260.19 L408.2 260.59 L409.63 260.98 L411.05 261.38 L412.48 261.77 L413.9 262.15 L415.32 262.54 L416.75 262.92 L418.17 263.3 L419.59 263.67 L421.02 264.05 L422.44 264.41 L423.87 264.78 L425.29 265.15 L426.71 265.51 L428.14 265.87 L429.56 266.23 L430.98 266.58 L432.41 266.93 L433.83 267.28 L435.26 267.63 L436.68 267.98 L438.1 268.32 L439.53 268.66 L440.95 269 L442.37 269.34 L443.8 269.68 L445.22 270.01 L446.65 270.34 L448.07 270.67 L449.49 271 L450.92 271.33 L452.34 271.65 L453.76 271.98 L455.19 272.3 L456.61 272.62 L458.04 272.93 L459.46 273.25 L460.88 273.56 L462.31 273.88 L463.73 274.19 L465.15 274.5 L466.58 274.81 L468 275.11 L469.43 275.42 L470.85 275.72 L472.27 276.02 L473.7 276.32 L475.12 276.62 L476.54 276.92 L477.97 277.22 L479.39 277.51 L480.82 277.81 L482.24 278.1 L483.66 278.39 L485.09 278.68 L486.51 278.97 L487.93 279.26 L489.36 279.55 L490.78 279.83 L492.21 280.12 L493.63 280.4 L495.05 280.68 L496.48 280.96 L497.9 281.24 L497.9 284.24 L496.48 283.96 L495.05 283.67 L493.63 283.39 L492.21 283.1 L490.78 282.81 L489.36 282.52 L487.93 282.23 L486.51 281.94 L485.09 281.65 L483.66 281.35 L482.24 281.06 L480.82 280.76 L479.39 280.46 L477.97 280.16 L476.54 279.86 L475.12 279.55 L473.7 279.25 L472.27 278.94 L470.85 278.63 L469.43 278.32 L468 278.01 L466.58 277.7 L465.15 277.38 L463.73 277.07 L462.31 276.75 L460.88 276.43 L459.46 276.11 L458.04 275.78 L456.61 275.46 L455.19 275.13 L453.76 274.8 L452.34 274.47 L450.92 274.14 L449.49 273.81 L448.07 273.47 L446.65 273.13 L445.22 272.79 L443.8 272.45 L442.37 272.1 L440.95 271.76 L439.53 271.41 L438.1 271.05 L436.68 270.7 L435.26 270.34 L433.83 269.98 L432.41 269.62 L430.98 269.26 L429.56 268.89 L428.14 268.52 L426.71 268.15 L425.29 267.78 L423.87 267.4 L422.44 267.02 L421.02 266.64 L419.59 266.25 L418.17 265.86 L416.75 265.47 L415.32 265.08 L413.9 264.68 L412.48 264.28 L411.05 263.88 L409.63 263.47 L408.2 263.07 L406.78 262.65 L405.36 262.24 L403.93 261.82 L402.51 261.4 L401.09 260.97 L399.66 260.54 L398.24 260.11 L396.81 259.67 L395.39 259.23 L393.97 258.78 L392.54 258.33 L391.12 257.88 L389.7 257.42 L388.27 256.96 L386.85 256.5 L385.42 256.03 L384 255.55 L382.58 255.07 L381.15 254.59 L379.73 254.1 L378.31 253.6 L376.88 253.1 L375.46 252.59 L374.03 252.08 L372.61 251.56 L371.19 251.03 L369.76 250.5 L368.34 249.97 L366.92 249.42 L365.49 248.87 L364.07 248.31 L362.64 247.74 L361.22 247.17 L359.8 246.58 L358.37 245.99 L356.95 245.39 L355.53 244.79 L354.1 244.17 L352.68 243.54 L351.25 242.9 L349.83 242.26 L348.41 241.6 L346.98 240.93 L345.56 240.25 L344.14 239.55 L342.71 238.84 L341.29 238.12 L339.86 237.38 L338.44 236.63 L337.02 235.86 L335.59 235.08 L334.17 234.28 L332.75 233.47 L331.32 232.64 L329.9 231.78 L328.47 230.91 L327.05 230.02 L325.63 229.11 L324.2 228.18 L322.78 227.22 L321.36 226.24 L319.93 225.23 L318.51 224.2 L317.08 223.13 L315.66 222.04 L314.24 220.92 L312.81 219.76 L311.39 218.56 L309.97 217.32 L308.54 216.05 L307.12 214.73 L305.69 213.35 L304.27 211.93 L302.85 210.45 L301.42 208.91 L300 207.3Z" fill="#dc143c" fill-opacity="0.22"/>
<path d="M300 207.3 L301.42 208.87 L302.85 210.37 L304.27 211.81 L305.69 213.2 L307.12 214.53 L308.54 215.81 L309.97 217.05 L311.39 218.25 L312.81 219.41 L314.24 220.53 L315.66 221.62 L317.08 222.68 L318.51 223.71 L319.93 224.71 L321.36 225.68 L322.78 226.63 L324.2 227.56 L325.63 228.46 L327.05 229.34 L328.47 230.2 L329.9 231.05 L331.32 231.87 L332.75 232.68 L334.17 233.47 L335.59 234.24 L337.02 235 L338.44 235.75 L339.86 236.48 L341.29 237.2 L342.71 237.9 L344.14 238.6 L345.56 239.28 L346.98 239.95 L348.41 240.61 L349.83 241.25 L351.25 241.89 L352.68 242.52 L354.1 243.14 L355.53 243.75 L356.95 244.35 L358.37 244.94 L359.8 245.53 L361.22 246.1 L362.64 246.67 L364.07 247.23 L365.49 247.78 L366.92 248.33 L368.34 248.87 L369.76 249.4 L371.19 249.93 L372.61 250.45 L374.03 250.96 L375.46 251.47 L376.88 251.97 L378.31 252.47 L379.73 252.96 L381.15 253.45 L382.58 253.93 L384 254.4 L385.42 254.87 L386.85 255.34 L388.27 255.8 L389.7 256.26 L391.12 256.71 L392.54 257.16 L393.97 257.6 L395.39 258.04 L396.81 258.48 L398.24 258.91 L399.66 259.34 L401.09 259.76 L402.51 260.18 L403.93 260.6 L405.36 261.01 L406.78 261.42 L408.2 261.83 L409.63 262.23 L411.05 262.63 L412.48 263.03 L413.9 263.42 L415.32 263.81 L416.75 264.2 L418.17 264.58 L419.59 264.96 L421.02 265.34 L422.44 265.72 L423.87 266.09 L425.29 266.46 L426.71 266.83 L428.14 267.2 L429.56 267.56 L430.98 267.92 L432.41 268.28 L433.83 268.63 L435.26 268.99 L436.68 269.34 L438.1 269.69 L439.53 270.03 L440.95 270.38 L442.37 270.72 L443.8 271.06 L445.22 271.4 L446.65 271.74 L448.07 272.07 L449.49 272.4 L450.92 272.73 L452.34 273.06 L453.76 273.39 L455.19 273.71 L456.61 274.04 L458.04 274.36 L459.46 274.68 L460.88 275 L462.31 275.31 L463.73 275.63 L465.15 275.94 L466.58 276.25 L468 276.56 L469.43 276.87 L470.85 277.18 L472.27 277.48 L473.7 277.79 L475.12 278.09 L476.54 278.39 L477.97 278.69 L479.39 278.99 L480.82 279.28 L482.24 279.58 L483.66 279.87 L485.09 280.16 L486.51 280.46 L487.93 280.75 L489.36 281.03 L490.78 281.32 L492.21 281.61 L493.63 281.89 L495.05 282.18 L496.48 282.46 L497.9 282.74" fill="none" stroke="#c8102e" stroke-width="1.35" stroke-linejoin="round"/>
<path d="M300 207.3 L301.42 208.87 L302.85 210.37 L304.27 211.81 L305.69 213.19 L307.12 214.53 L308.54 215.81 L309.97 217.05 L311.39 218.24 L312.81 219.4 L314.24 220.53 L315.66 221.61 L317.08 222.67 L318.51 223.7 L319.93 224.7 L321.36 225.67 L322.78 226.62 L324.2 227.54 L325.63 228.44 L327.05 229.32 L328.47 230.18 L329.9 231.02 L331.32 231.85 L332.75 232.65 L334.17 233.44 L335.59 234.21 L337.02 234.97 L338.44 235.71 L339.86 236.44 L341.29 237.15 L342.71 237.86 L344.14 238.55 L345.56 239.22 L346.98 239.89 L348.41 240.55 L349.83 241.19 L351.25 241.82 L352.68 242.45 L354.1 243.06 L355.53 243.67 L356.95 244.27 L358.37 244.85 L359.8 245.43 L361.22 246.01 L362.64 246.57 L364.07 247.13 L365.49 247.67 L366.92 248.22 L368.34 248.75 L369.76 249.28 L371.19 249.8 L372.61 250.31 L374.03 250.82 L375.46 251.33 L376.88 251.82 L378.31 252.31 L379.73 252.8 L381.15 253.28 L382.58 253.75 L384 254.22 L385.42 254.69 L386.85 255.15 L388.27 255.6 L389.7 256.05 L391.12 256.5 L392.54 256.94 L393.97 257.38 L395.39 257.81 L396.81 258.24 L398.24 258.66 L399.66 259.08 L401.09 259.5 L402.51 259.91 L403.93 260.32 L405.36 260.73 L406.78 261.13 L408.2 261.53 L409.63 261.92 L411.05 262.31 L412.48 262.7 L413.9 263.09 L415.32 263.47 L416.75 263.85 L418.17 264.22 L419.59 264.6 L421.02 264.97 L422.44 265.33 L423.87 265.7 L425.29 266.06 L426.71 266.42 L428.14 266.78 L429.56 267.13 L430.98 267.48 L432.41 267.83 L433.83 268.18 L435.26 268.52 L436.68 268.86 L438.1 269.2 L439.53 269.54 L440.95 269.87 L442.37 270.2 L443.8 270.53 L445.22 270.86 L446.65 271.19 L448.07 271.51 L449.49 271.83 L450.92 272.15 L452.34 272.47 L453.76 272.79 L455.19 273.1 L456.61 273.41 L458.04 273.72 L459.46 274.03 L460.88 274.34 L462.31 274.64 L463.73 274.94 L465.15 275.24 L466.58 275.54 L468 275.84 L469.43 276.14 L470.85 276.43 L472.27 276.72 L473.7 277.02 L475.12 277.3 L476.54 277.59 L477.97 277.88 L479.39 278.16 L480.82 278.45 L482.24 278.73 L483.66 279.01 L485.09 279.29 L486.51 279.57 L487.93 279.84 L489.36 280.12 L490.78 280.39 L492.21 280.67 L493.63 280.94 L495.05 281.21 L496.48 281.47 L497.9 281.74" fill="none" stroke="#3db54a" stroke-width="1.35" stroke-linejoin="round"/>
<path d="M300 207.3 L301.42 208.79 L302.85 210.21 L304.27 211.57 L305.69 212.88 L307.12 214.14 L308.54 215.36 L309.97 216.53 L311.39 217.66 L312.81 218.76 L314.24 219.82 L315.66 220.85 L317.08 221.86 L318.51 222.83 L319.93 223.78 L321.36 224.7 L322.78 225.6 L324.2 226.48 L325.63 227.34 L327.05 228.17 L328.47 228.99 L329.9 229.79 L331.32 230.58 L332.75 231.35 L334.17 232.1 L335.59 232.84 L337.02 233.56 L338.44 234.27 L339.86 234.97 L341.29 235.65 L342.71 236.33 L344.14 236.99 L345.56 237.64 L346.98 238.28 L348.41 238.91 L349.83 239.53 L351.25 240.14 L352.68 240.75 L354.1 241.34 L355.53 241.93 L356.95 242.5 L358.37 243.07 L359.8 243.63 L361.22 244.19 L362.64 244.73 L364.07 245.27 L365.49 245.81 L366.92 246.33 L368.34 246.85 L369.76 247.37 L371.19 247.88 L372.61 248.38 L374.03 248.88 L375.46 249.37 L376.88 249.85 L378.31 250.33 L379.73 250.81 L381.15 251.28 L382.58 251.75 L384 252.21 L385.42 252.67 L386.85 253.12 L388.27 253.57 L389.7 254.01 L391.12 254.45 L392.54 254.89 L393.97 255.32 L395.39 255.75 L396.81 256.17 L398.24 256.59 L399.66 257.01 L401.09 257.42 L402.51 257.83 L403.93 258.24 L405.36 258.64 L406.78 259.04 L408.2 259.44 L409.63 259.83 L411.05 260.22 L412.48 260.61 L413.9 261 L415.32 261.38 L416.75 261.76 L418.17 262.13 L419.59 262.51 L421.02 262.88 L422.44 263.25 L423.87 263.61 L425.29 263.98 L426.71 264.34 L428.14 264.7 L429.56 265.05 L430.98 265.41 L432.41 265.76 L433.83 266.11 L435.26 266.46 L436.68 266.8 L438.1 267.15 L439.53 267.49 L440.95 267.83 L442.37 268.17 L443.8 268.5 L445.22 268.83 L446.65 269.17 L448.07 269.49 L449.49 269.82 L450.92 270.15 L452.34 270.47 L453.76 270.8 L455.19 271.12 L456.61 271.43 L458.04 271.75 L459.46 272.07 L460.88 272.38 L462.31 272.69 L463.73 273 L465.15 273.31 L466.58 273.62 L468 273.93 L469.43 274.23 L470.85 274.54 L472.27 274.84 L473.7 275.14 L475.12 275.44 L476.54 275.73 L477.97 276.03 L479.39 276.32 L480.82 276.62 L482.24 276.91 L483.66 277.2 L485.09 277.49 L486.51 277.78 L487.93 278.07 L489.36 278.35 L490.78 278.64 L492.21 278.92 L493.63 279.2 L495.05 279.48 L496.48 279.76 L497.9 280.04" fill="none" stroke="#154d88" stroke-width="1.35" stroke-linejoin="round"/>
</g>
<line x1="299.93" y1="203.1" x2="299.93" y2="310.65" stroke="#383838" stroke-width="1.6"/>
<line x1="299.93" y1="307.45" x2="502.1" y2="307.45" stroke="#141414" stroke-width="1.5"/>
<line x1="296.83" y1="207.3" x2="299.93" y2="207.3" stroke="#474747" stroke-width="1.2"/>
<text x="295.48" y="210.1" font-size="8.2" text-anchor="end" class="t">1.00</text>
<line x1="296.83" y1="238.53" x2="299.93" y2="238.53" stroke="#474747" stroke-width="1.2"/>
<text x="295.48" y="241.33" font-size="8.2" text-anchor="end" class="t">0.95</text>
<line x1="296.83" y1="269.76" x2="299.93" y2="269.76" stroke="#474747" stroke-width="1.2"/>
<text x="295.48" y="272.56" font-size="8.2" text-anchor="end" class="t">0.90</text>
<line x1="296.83" y1="300.99" x2="299.93" y2="300.99" stroke="#474747" stroke-width="1.2"/>
<text x="295.48" y="303.79" font-size="8.2" text-anchor="end" class="t">0.85</text>
<line x1="300" y1="307.45" x2="300" y2="310.95" stroke="#1c1c1c" stroke-width="1.2"/>
<text x="300" y="319.05" font-size="8.2" text-anchor="middle" class="t">0</text>
<line x1="349.47" y1="307.45" x2="349.47" y2="310.95" stroke="#1c1c1c" stroke-width="1.2"/>
<text x="349.47" y="319.05" font-size="8.2" text-anchor="middle" class="t">7</text>
<line x1="398.95" y1="307.45" x2="398.95" y2="310.95" stroke="#1c1c1c" stroke-width="1.2"/>
<text x="398.95" y="319.05" font-size="8.2" text-anchor="middle" class="t">14</text>
<line x1="448.42" y1="307.45" x2="448.42" y2="310.95" stroke="#1c1c1c" stroke-width="1.2"/>
<text x="448.42" y="319.05" font-size="8.2" text-anchor="middle" class="t">21</text>
<line x1="497.9" y1="307.45" x2="497.9" y2="310.95" stroke="#1c1c1c" stroke-width="1.2"/>
<text x="497.9" y="319.05" font-size="8.2" text-anchor="middle" class="t">28</text>
<text x="342.1" y="198.1" font-size="9.9" text-anchor="start" textLength="112.9" lengthAdjust="spacingAndGlyphs" class="h">4−Week storage threshold</text>
<text x="0" y="0" font-size="9.8" text-anchor="middle" textLength="64.2" lengthAdjust="spacingAndGlyphs" style="stroke-width:0.16px" transform="translate(14.6 74.8) rotate(-90)">Survival probability</text>
<text x="0" y="0" font-size="9.8" text-anchor="middle" textLength="64.3" lengthAdjust="spacingAndGlyphs" style="stroke-width:0.16px" transform="translate(14.6 257.25) rotate(-90)">Survival probability</text>
<text x="89.4" y="332.2" font-size="9.9" text-anchor="start" textLength="100.6" lengthAdjust="spacingAndGlyphs" style="stroke-width:0.2px">Days after baseline transfusion</text>
<text x="348.8" y="332.2" font-size="9.9" text-anchor="start" textLength="100.1" lengthAdjust="spacingAndGlyphs" style="stroke-width:0.2px">Days after baseline transfusion</text>
<text x="34.6" y="152.2" font-size="8.6" text-anchor="start" textLength="62.2" lengthAdjust="spacingAndGlyphs">RBC storage time</text>
<text x="119.8" y="152.2" font-size="8.6" text-anchor="start" textLength="46.4" lengthAdjust="spacingAndGlyphs">1 week or less</text>
<text x="189.2" y="152.2" font-size="8.6" text-anchor="start" textLength="59.7" lengthAdjust="spacingAndGlyphs">More than 1 week</text>
<text x="119.9" y="164.5" font-size="8.6" text-anchor="start" textLength="47.9" lengthAdjust="spacingAndGlyphs">Natural course</text>
<rect x="103" y="146.3" width="13.2" height="6.6" fill="#3cb44b" fill-opacity="0.26"/>
<line x1="103" y1="149.6" x2="116.2" y2="149.6" stroke="#3db54a" stroke-width="1.7"/>
<rect x="173.7" y="146.3" width="12.8" height="6.6" fill="#1f5a96" fill-opacity="0.25"/>
<line x1="173.7" y1="149.6" x2="186.5" y2="149.6" stroke="#154d88" stroke-width="1.7"/>
<rect x="103" y="159" width="13.2" height="6.6" fill="#dc143c" fill-opacity="0.22"/>
<line x1="103" y1="162.3" x2="116.2" y2="162.3" stroke="#c8102e" stroke-width="1.7"/>
<text x="291.9" y="152.2" font-size="8.6" text-anchor="start" textLength="62.1" lengthAdjust="spacingAndGlyphs">RBC storage time</text>
<text x="376.9" y="152.2" font-size="8.6" text-anchor="start" textLength="49.7" lengthAdjust="spacingAndGlyphs">2 weeks or less</text>
<text x="450" y="152.2" font-size="8.6" text-anchor="start" textLength="62.6" lengthAdjust="spacingAndGlyphs">More than 2 weeks</text>
<text x="376.9" y="164.5" font-size="8.6" text-anchor="start" textLength="48" lengthAdjust="spacingAndGlyphs">Natural course</text>
<rect x="360.5" y="146.3" width="12.6" height="6.6" fill="#3cb44b" fill-opacity="0.26"/>
<line x1="360.5" y1="149.6" x2="373.1" y2="149.6" stroke="#3db54a" stroke-width="1.7"/>
<rect x="434.3" y="146.3" width="12.6" height="6.6" fill="#1f5a96" fill-opacity="0.25"/>
<line x1="434.3" y1="149.6" x2="446.9" y2="149.6" stroke="#154d88" stroke-width="1.7"/>
<rect x="360.5" y="159" width="12.6" height="6.6" fill="#dc143c" fill-opacity="0.22"/>
<line x1="360.5" y1="162.3" x2="373.1" y2="162.3" stroke="#c8102e" stroke-width="1.7"/>
<text x="31.2" y="347.9" font-size="8.6" text-anchor="start" textLength="62.3" lengthAdjust="spacingAndGlyphs">RBC storage time</text>
<text x="116.3" y="347.9" font-size="8.6" text-anchor="start" textLength="49.7" lengthAdjust="spacingAndGlyphs">3 weeks or less</text>
<text x="189.2" y="347.9" font-size="8.6" text-anchor="start" textLength="63.1" lengthAdjust="spacingAndGlyphs">More than 3 weeks</text>
<text x="116.4" y="360.5" font-size="8.6" text-anchor="start" textLength="47.5" lengthAdjust="spacingAndGlyphs">Natural course</text>
<rect x="99.9" y="342.1" width="13.1" height="6.6" fill="#3cb44b" fill-opacity="0.26"/>
<line x1="99.9" y1="345.4" x2="113" y2="345.4" stroke="#3db54a" stroke-width="1.7"/>
<rect x="173.7" y="342.1" width="12.8" height="6.6" fill="#1f5a96" fill-opacity="0.25"/>
<line x1="173.7" y1="345.4" x2="186.5" y2="345.4" stroke="#154d88" stroke-width="1.7"/>
<rect x="99.9" y="354.7" width="13.1" height="6.6" fill="#dc143c" fill-opacity="0.22"/>
<line x1="99.9" y1="358" x2="113" y2="358" stroke="#c8102e" stroke-width="1.7"/>
<text x="290.2" y="347.9" font-size="8.6" text-anchor="start" textLength="62.1" lengthAdjust="spacingAndGlyphs">RBC storage time</text>
<text x="375.4" y="347.9" font-size="8.6" text-anchor="start" textLength="49.7" lengthAdjust="spacingAndGlyphs">4 weeks or less</text>
<text x="448.5" y="347.9" font-size="8.6" text-anchor="start" textLength="63" lengthAdjust="spacingAndGlyphs">More than 4 weeks</text>
<text x="375.5" y="360.5" font-size="8.6" text-anchor="start" textLength="48" lengthAdjust="spacingAndGlyphs">Natural course</text>
<rect x="359" y="342.1" width="12.9" height="6.6" fill="#3cb44b" fill-opacity="0.26"/>
<line x1="359" y1="345.4" x2="371.9" y2="345.4" stroke="#3db54a" stroke-width="1.7"/>
<rect x="432.8" y="342.1" width="12.6" height="6.6" fill="#1f5a96" fill-opacity="0.25"/>
<line x1="432.8" y1="345.4" x2="445.4" y2="345.4" stroke="#154d88" stroke-width="1.7"/>
<rect x="359" y="354.7" width="12.9" height="6.6" fill="#dc143c" fill-opacity="0.22"/>
<line x1="359" y1="358" x2="371.9" y2="358" stroke="#c8102e" stroke-width="1.7"/>
<rect x="0" y="0" width="520" height="371" fill="none" stroke="#000" stroke-width="2.9"/>
</svg></body></html>
